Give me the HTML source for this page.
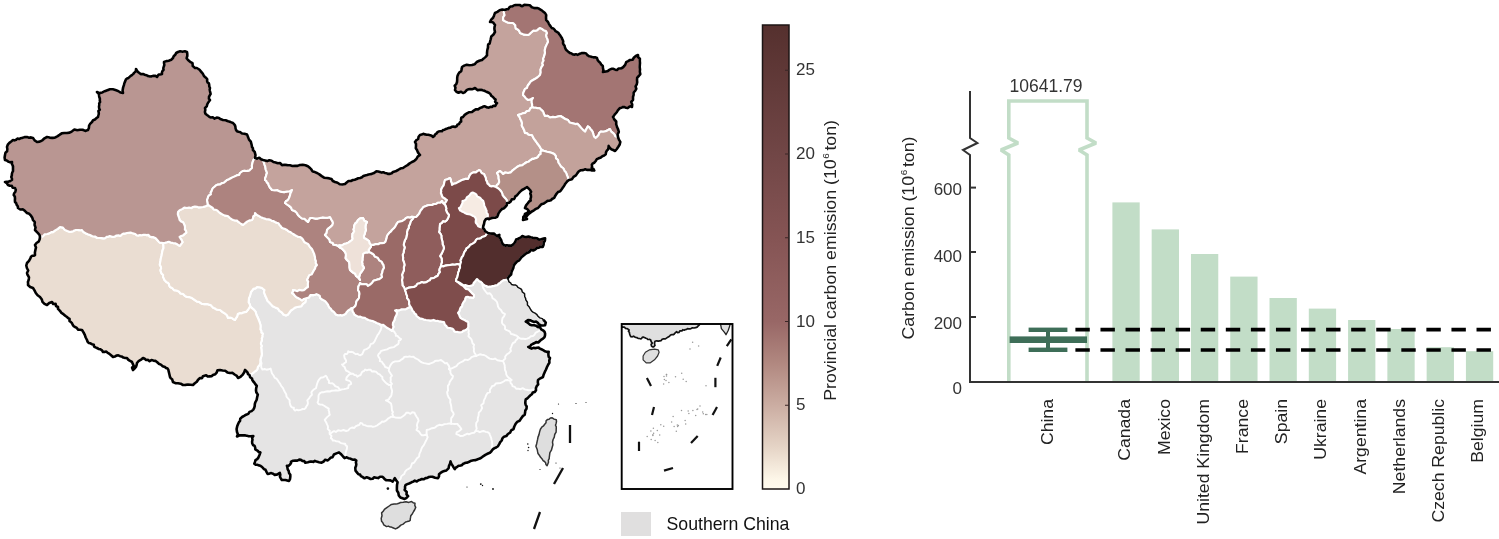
<!DOCTYPE html>
<html><head><meta charset="utf-8"><title>Carbon emission</title>
<style>html,body{margin:0;padding:0;background:#fff}svg{display:block;filter:opacity(0.9999)}text{font-family:"Liberation Sans",sans-serif}</style>
</head><body>
<svg width="1499" height="539" viewBox="0 0 1499 539">
<rect width="1499" height="539" fill="#fff"/>
<g stroke="#fff" stroke-width="2.1" stroke-linejoin="round">
<path d="M456 281 L458.1 281.9 L460 283 L461.8 284.1 L463.6 285.4 L465.9 285.1 L468 286 L470.5 285.7 L473 285 L473.5 283.2 L474.7 281.8 L475.8 280.4 L477 279 L478.1 280.1 L479.3 281.2 L480.8 281.8 L482 283 L483.2 284.4 L484.7 285.4 L486.4 286 L488 287 L489.5 286.6 L491 286.5 L492.5 286.1 L494 286 L495.6 285.3 L497.3 285.2 L498.4 283.8 L500 283 L501.6 281.3 L503.5 280.1 L506 280 L507.7 278.2 L508.4 280 L508.9 281.8 L510.6 282.8 L511.5 284.5 L513.4 285 L515.3 284.9 L516.9 285.8 L517.9 287.3 L519.4 288.2 L521 289 L521.9 290.3 L522.2 291.9 L523.5 292.8 L524.6 293.9 L524.6 295.5 L524.9 297 L525.6 298.4 L525.8 299.9 L527.4 302.2 L527.4 305.1 L529.3 307.1 L530.6 309.5 L531.7 311.1 L533.3 312.3 L535 313.2 L536.6 314.3 L538 316.3 L539.8 317.9 L542.2 318.6 L543.9 320.4 L545.8 322.5 L545.1 325.2 L543 325.5 L541 325.2 L539 324.5 L537.8 322.8 L536.1 321.6 L534.1 322 L532.3 321.3 L530.6 320.4 L528 320.1 L525.8 321.6 L527.3 322.5 L528.7 323.6 L530.1 324.7 L531.8 325.2 L534 325.2 L536.2 325.7 L538 327.1 L540.2 327.6 L541.2 329.3 L543 330.3 L544.5 331.7 L545.1 333.6 L545 335.5 L544.4 337.3 L543 338.6 L541.4 339.6 L539.8 341 L538.3 342.5 L536.1 342.1 L534.2 343.3 L532.6 344 L531.1 344.9 L530 346.4 L528.2 346.9 L529.9 347.8 L531.6 348.6 L533.4 347.9 L535.4 348.1 L537 347.8 L538.6 347.6 L539.9 348.6 L541.4 349.3 L543.2 350.1 L544.8 351.2 L546.7 351.9 L548.7 351.7 L548.4 353.3 L548.4 355 L548.7 356.8 L550 358 L549.3 360.4 L549.4 362.8 L548.1 364.8 L547 367 L546 369.5 L544.8 371.9 L543.7 374.4 L543 377 L540.4 378.3 L538 380 L537.8 382.2 L538.2 384.4 L536.7 386.1 L535.9 388.2 L536 390.2 L534.8 391.9 L532.8 392.5 L531.8 394.3 L530.2 395.5 L528.8 396.9 L527.4 398.3 L525.7 399.4 L525.4 401.2 L525.3 403.1 L525.7 404.9 L526.7 406.5 L526.5 408.7 L525.3 410.5 L525.1 412.6 L524.7 414.7 L523 415.9 L521.8 417.5 L520.7 419.1 L519.6 420.8 L517.1 421.9 L515.5 424.1 L514.3 426.5 L513.5 429 L511.2 430.3 L510.1 432.7 L507.9 434 L506.3 436.1 L504 436.7 L502.4 438.3 L501.7 440.5 L500.2 442.2 L499.2 444.2 L498 446.2 L496.1 447.5 L494.1 448.4 L492.5 449.6 L491.4 451.3 L489.9 452.7 L488 453.5 L485.8 454.6 L483.8 455.9 L481.8 457.3 L479.8 458.6 L477.7 459.2 L475.7 460.1 L473.5 460.2 L471.4 460.7 L468.7 462 L467.3 462.6 L465.8 462.8 L464.3 463.3 L462.9 464 L461.9 465.2 L460.3 465.6 L458.6 465.7 L457.2 466.8 L455.8 467.7 L454.7 469.1 L453.6 467.4 L452.6 465.6 L451.3 463.6 L450.5 461.4 L450.1 463.6 L449.1 465.6 L448.5 468.4 L446.4 470.4 L444.3 471.1 L442.2 471.8 L440.5 472.9 L439 474.2 L439 476.3 L438 478.1 L435.1 477.7 L432.4 476.7 L430.6 476.8 L428.9 477 L427.3 477.9 L425.5 478.1 L423.9 479.2 L421.9 479 L420.2 479.7 L418.5 480.2 L416.8 481.5 L414.8 480.6 L413.2 481.6 L411.5 482.3 L409.1 483.5 L406.7 484.4 L405.4 485.3 L405 486.9 L405.1 488.4 L404.6 489.9 L406.7 492 L406.5 494.4 L408.1 496.2 L406.5 497.8 L404.6 499 L402.5 498.3 L400.4 497.6 L398.8 495.4 L398.3 492.7 L396.9 490.5 L396.9 487.9 L397 485.1 L397.6 482.3 L396.1 480.2 L394.8 478.1 L393.8 479.9 L392.7 481.6 L390.4 480.4 L387.9 480.2 L386.1 480.1 L384.7 479.1 L383.6 477.8 L382.3 476.7 L380 476.8 L378.1 478.1 L376.1 477.7 L374.2 477.3 L372.7 478.7 L370.6 479 L368.7 478 L366.7 477.2 L364.5 478.3 L362.4 476.9 L360.9 476.1 L360.1 474.6 L358.4 474.2 L357.3 472.9 L355.5 470.6 L355.3 467.8 L356 466.1 L356.3 464.3 L355.9 462.5 L356.3 460.6 L354.9 459.6 L353.2 459.8 L351.7 459.3 L350.2 458.6 L348.3 458.2 L346.7 457.3 L344.6 458.1 L343.1 456.5 L341.2 454.3 L339 452.4 L336.4 453.4 L333.9 454.5 L333.2 455.9 L332.5 457.2 L331 457.6 L329.8 458.6 L327.8 460.4 L325.2 459.7 L323.7 461.5 L321.6 462.7 L319 462.2 L316.5 461.6 L314.9 460.9 L313.4 461.9 L311.9 461.6 L310.4 461.6 L307.9 462.3 L305.3 462.7 L304.3 461.1 L302.4 460.9 L300.9 459.9 L299.2 459.6 L297.3 460.6 L295.1 460.6 L293 460.8 L291 461.6 L290.9 463.3 L289.9 464.6 L288.6 465.8 L286.9 465.7 L287.4 467.5 L287.7 469.4 L288.7 471 L289 472.9 L290.3 474.7 L290.3 476.9 L290 479.1 L289 481 L287.2 480.5 L285.5 480 L283.6 480 L281.8 480 L280.8 478.4 L279.9 476.7 L280.3 474.8 L279.8 472.9 L277.5 474.4 L274.7 474.9 L273.1 473.8 L271.3 473.1 L269.5 473.6 L267.6 473.9 L266.5 471.9 L265.5 469.8 L264 469.1 L262.9 467.9 L261.7 466.7 L260.4 465.7 L258.8 465.4 L257.3 464.8 L255.7 464.7 L254.3 463.7 L255 461.9 L255.5 460.1 L257.2 459.1 L258.4 457.6 L259.5 455 L260.4 452.4 L258.8 452.1 L257.8 450.9 L255.3 449.4 L255.2 447.6 L254.6 445.9 L253 445 L252.2 443.3 L252.1 441.5 L252.5 439.7 L252.2 437.8 L253.3 436.1 L250.8 436.3 L248.2 436.1 L245.4 435.4 L242.6 435.4 L239.7 435.3 L237 436.5 L237.9 434.2 L237 432 L236.6 429.1 L237.2 426.2 L238.3 423.5 L239 422.2 L240 421 L240.3 418.6 L242.1 417 L244.1 415.9 L246.1 414.7 L248.3 413.9 L249.5 411.9 L251.6 411.1 L253.3 409.6 L254.2 407.9 L254.7 406.1 L254.8 404.2 L255.3 402.4 L256.6 400 L257.1 397.4 L257.8 394.6 L256.3 392.2 L256 390.2 L256.2 388.1 L256.8 385.9 L255.3 384.1 L254.4 382.7 L253.3 381.5 L252.3 380.1 L252 378.5 L250.1 377.2 L249.5 375 L252.2 373.7 L253.5 372.7 L254.7 371.6 L256.1 370.7 L257.3 369.6 L257.9 366.9 L259.8 364.8 L260.5 362.1 L260.4 359.4 L261.2 356.9 L261.9 354.4 L261.6 351.8 L261.4 349.2 L261.1 347.5 L261.8 346 L261 344.6 L260.9 343 L261.4 341.5 L262 340 L261.7 338.4 L262.4 336.9 L262.3 335.3 L262.8 333.7 L261.3 332.6 L261.3 330.8 L260.4 329.4 L260.5 327.8 L260.6 326.2 L260.4 324.7 L259.6 322.1 L258.6 319.5 L257.5 317 L256.3 314.5 L255.7 311.9 L254.1 309.8 L252 308.2 L250.2 306.3 L249.7 304.2 L248.6 302.3 L248.8 300.2 L249 298 L249.8 296.6 L250.2 295.1 L250.6 293.6 L251 292 L252.3 290.4 L253.4 288.7 L255.5 288.4 L257 287 L259.5 287.3 L262 288 L263.2 289 L264.5 290 L263.9 292.2 L264.8 294.3 L265.5 296.3 L266.5 298.2 L267.4 300.7 L269.3 302.5 L271 304.4 L272.7 306.3 L275.2 307.4 L277.8 308.4 L279.4 310.8 L281.8 312.4 L283.4 314.5 L285.9 315.5 L287.7 314.8 L288.9 313.4 L289.9 311.9 L291 310.4 L293.5 308.8 L294.7 307.8 L296.1 307.3 L298.7 306.8 L301.2 306.3 L302.9 303.9 L305.3 302.2 L305.7 300.2 L306.3 298.2 L309 297.4 L310.4 295.1 L311.9 295.1 L313.5 295.1 L315.1 294.8 L316.5 294.1 L318.2 294.9 L319.8 295.9 L320.1 297.9 L321.6 299.2 L323.4 300.1 L325.2 301.1 L326.5 302.7 L327.8 304.3 L328.6 306 L329.4 307.6 L330.9 308.8 L331.8 310.4 L334.1 312.2 L335.9 314.5 L337.3 315.1 L338.9 315.2 L340.5 315.1 L342 315.5 L344 314.8 L345.7 313.7 L346.8 311.9 L348.2 310.4 L349.8 309.5 L351.2 308.4 L352.5 309.7 L352.7 311.5 L353.7 312.9 L354.3 314.5 L356.2 315.6 L358.1 316.7 L360.4 316.6 L362.4 317.6 L364.6 317.7 L366.5 319 L368.5 320 L370.6 320.6 L372.7 321.1 L374.8 321.9 L376.7 323 L378.8 323.7 L380.8 325.1 L383.3 324.9 L385.1 326.3 L386.9 327.8 L389.6 329.1 L392 330.8 L392.7 328.8 L393.5 326.9 L392.8 324.9 L393 322.7 L394.4 320.3 L395.1 317.6 L396.4 315.1 L397.1 312.4 L395.1 310.4 L396.6 310 L398.2 310.4 L399.8 310.2 L401.2 309.4 L403.3 309.3 L405.5 309.3 L407.4 308.2 L409.4 307.3 L410 306 L411.1 307.4 L411.9 309 L412.6 310.8 L414 312 L414.7 313.6 L416.2 314.4 L416.6 316 L418 317 L419.7 318.4 L421.9 318.8 L423.9 319.5 L426 320 L428.5 320.3 L431 320.6 L433.6 319.9 L436 321 L438 320.9 L440 321.4 L442 321.7 L444 322 L444.5 323.5 L445 325 L446.4 325.8 L447 327.3 L448.4 328 L450 328 L451.8 328.4 L453.4 329.4 L454.2 331.2 L456 332 L457.5 331.9 L459 332.3 L460.5 332.3 L462 332 L463.3 330.7 L465.1 330.2 L466.7 329.3 L468 328 L468.3 326.5 L468.2 325 L468.3 323.5 L468 322 L466.5 321.3 L465 320.4 L463.5 319.6 L462 319 L460.4 317.9 L459.6 316.2 L459 314.5 L458 313 L459.4 311.2 L460 309 L460.7 307.4 L462.1 306.3 L462.2 304.6 L463 303 L463.9 301.5 L465.1 300.3 L465.2 298.6 L466 297 L467.8 296.8 L469.5 297.4 L471.3 297.4 L473 298 L473.9 296.6 L474 295 L472.1 293.4 L470.4 291.5 L468.6 289.5 L466 289 L464.6 287.6 L463.4 286 L461.7 285 L460 284 L458.1 282.4Z" fill="#e5e4e4"/>
<path d="M40 237 L42.8 236.4 L44.7 234.2 L47.4 234 L50 233 L51.3 232.1 L52.9 232.1 L55.2 230.3 L57.8 228.9 L60 227 L62.9 227.6 L64.8 229.9 L67.4 231 L70 232 L71.5 231.6 L73 231.3 L74.3 230.4 L75.8 230 L77.4 230 L78.9 230.1 L80.5 230.3 L82 230 L83.4 232 L85.5 233.2 L87.7 234.3 L90 235 L92.4 236.2 L95 236.5 L97.3 238 L100 238 L101.7 238.1 L103.4 238.4 L105.2 238.1 L106.5 236.9 L108.2 236.7 L109.8 236 L111.4 236.4 L113 237 L114.8 236.5 L116.5 235.5 L118.5 235.3 L120.3 236 L121.6 234.6 L123.2 233.6 L125.1 233.6 L127 233 L128.7 232.7 L130.4 232.5 L132 233.1 L133.6 233.5 L135.3 234 L136.6 235.2 L138.3 235.6 L140 235 L141.7 235.2 L143.3 234.9 L145 234.8 L146.6 235.1 L148.5 234.9 L149.7 236.5 L151.3 237.1 L153 237 L155.7 238.3 L157.7 240.5 L158.7 241.7 L159.9 242.7 L161.5 242.7 L163 243 L163.4 245.5 L163.5 248.1 L162.5 250.5 L162 253 L161.6 255.5 L160.9 258 L160.5 260.5 L160 263 L159.8 265 L160.9 266.6 L161.1 268.4 L160.5 270.2 L160.9 271.9 L161.6 273.6 L163.1 275 L163 277 L163.8 278.3 L164.3 279.8 L165.4 280.9 L166.4 282.1 L167.9 282.8 L169 284 L169.2 285.6 L170 287 L172.3 288.1 L174 290.1 L176.5 290.5 L178.8 291.4 L180.5 293.5 L183.1 294 L184.8 295.8 L187 297 L189.8 297.1 L192.3 298.3 L194.5 299.8 L196.7 301.4 L199.4 302.1 L201.6 303.7 L204.3 304.1 L207 304 L208.8 304.6 L210.6 305 L211.9 306.4 L213.2 307.8 L215 308.4 L216.4 309.5 L218.2 309.8 L220 310 L222.3 311.8 L224.7 313.3 L227 315.2 L228 318 L229.9 317.6 L231.8 318 L233.3 319.1 L235 320 L236 318.1 L237.2 316.3 L237.8 314 L240 313 L241.6 313.3 L243 312.5 L244.5 312.1 L246 312 L247.2 310.7 L248.3 309.3 L249.2 307.8 L250.2 306.3 L252 308.2 L254.1 309.8 L255.7 311.9 L256.3 314.5 L257.5 317 L258.6 319.5 L259.6 322.1 L260.4 324.7 L260.6 326.2 L260.5 327.8 L260.4 329.4 L261.3 330.8 L261.3 332.6 L262.8 333.7 L262.3 335.3 L262.4 336.9 L261.7 338.4 L262 340 L261.4 341.5 L260.9 343 L261 344.6 L261.8 346 L261.1 347.5 L261.4 349.2 L261.6 351.8 L261.9 354.4 L261.2 356.9 L260.4 359.4 L260.5 362.1 L259.8 364.8 L257.9 366.9 L257.3 369.6 L256.1 370.7 L254.7 371.6 L253.5 372.7 L252.2 373.7 L249.5 375 L248 374.1 L247.5 372.3 L246.3 371.1 L245 370 L244.1 372.6 L242.5 374.9 L240.5 376.8 L238 378 L236.8 375.8 L234.6 374.5 L232.6 372.9 L230 373 L227.4 372.4 L225.2 370.8 L222.6 370.5 L220 370 L217.5 370.3 L216.6 372.7 L215.1 374.3 L213 375 L211.5 376.3 L209.6 376.4 L207.7 376.5 L206.2 375.2 L204.5 375.7 L202.9 376.2 L202.1 378.1 L200 378 L198.1 379.7 L196.8 381.8 L194.8 383.3 L193 385 L190.5 384.7 L188 384.5 L185.5 384.9 L183 385 L180.7 383.7 L178.1 383.2 L175.4 383.2 L173 382 L172.1 379.2 L170.8 378.3 L170 377 L169.4 374.2 L168.7 371.4 L168.4 369.9 L167.6 368.6 L166.1 368.1 L165 367 L162.7 366.2 L160.9 364.6 L158.7 363.7 L157 362 L155.4 360.9 L153.4 360.6 L151.4 360.1 L149.6 361.2 L148.1 359.9 L146.1 360 L144.7 358.8 L143 358 L141.5 359.3 L139.8 360.3 L138.2 361.5 L137 363 L136.6 365 L135.9 367 L134.5 368.6 L133 370 L132.1 367.7 L133.7 365.8 L132.8 363.9 L132 362 L130.6 361.2 L129.2 360.4 L127.9 359.4 L127 358 L125.2 358 L123.4 357.6 L121.9 356.6 L120.1 356.2 L118.3 355.3 L116.4 355.6 L114.8 356.6 L113 357 L110.8 355.1 L108.6 353.3 L107.3 352.5 L106.1 351.5 L104.6 351.9 L103 352 L102 350.4 L100.4 349.3 L98.6 348.9 L97 348 L95.5 347.4 L94.1 346.6 L93.8 344.7 L91.9 344.2 L90.4 343.3 L88.7 343 L87.6 341.7 L87 340 L85.7 337.5 L84.8 334.9 L83.5 332.4 L82 330 L80 329.8 L78 329.6 L76.8 327.9 L75 327 L73.6 326.1 L72.7 324.7 L72 323.2 L70.9 322.1 L69.5 320.9 L69.6 319 L68.2 318.2 L67 317 L65.6 316 L64.3 314.9 L63 313.8 L61.5 312.9 L60.5 311.5 L59.3 310.2 L58 308.9 L58 307 L56 306 L55.6 303.8 L53.2 304 L52 302 L49.2 303 L47 305 L44.5 303.9 L42.5 301.9 L41.7 299.2 L40 297 L37.6 295.3 L35.8 293 L34.5 290.4 L33 288 L30.2 287 L28 285 L28.1 283.4 L27.9 281.9 L28.5 280.5 L28.8 278.9 L29 277.3 L28.2 275.8 L27.4 274.5 L27 273 L28.2 270.5 L26.9 268 L26.3 265.5 L27 263 L29 260.9 L30.4 258.4 L30.9 256.9 L32 255.8 L33.6 255.8 L35 255 L34.9 252.5 L35.4 250 L36 247.4 L35 245 L36.5 243 L38.6 241.7 L39.6 239.5Z" fill="#eaddd2"/>
<path d="M163 243 L164.9 242.7 L166.8 242.3 L168.8 241.7 L170.7 242.5 L173.1 243.1 L175.5 243.3 L177.6 244.5 L179.6 246 L181.1 244.1 L182.6 242.2 L181.3 239.5 L180.4 238.3 L179.6 237 L181.3 235.9 L183.3 235.3 L184.7 233.8 L186.3 232.6 L186 230.8 L184.8 229.5 L185 227.8 L184.8 226 L184 224.1 L183 222.3 L181.1 221.5 L179.6 220 L179.1 218 L178.4 216.1 L177.8 214.1 L178 212 L179.7 210.1 L182.1 209.1 L184.3 207.6 L187 208 L189.1 207.5 L191.1 208.1 L192.9 207 L194.9 206.5 L196.9 206.8 L198.9 207.4 L201 207.3 L203 207 L205.6 206.3 L208 205 L209.6 205.8 L211.2 206.8 L212.7 207.9 L213.7 209.5 L215.6 209.7 L217.3 210.4 L218.6 211.7 L220 213 L222.4 214.4 L224.9 215.6 L227.8 216 L230 218 L231.5 219.1 L233.2 220 L235.1 220.5 L237 220.6 L238.4 221.9 L239.9 223 L241.4 224 L243 225 L245 223.3 L247 221.6 L249.4 220.4 L252 220 L253 218.3 L253.2 216.4 L254.9 215.1 L255 213 L256.6 214.8 L258.7 215.9 L260.8 217.1 L263 218 L264.6 218.4 L266 219.2 L267.6 219.2 L269.2 219.4 L270.7 220 L272 221 L273.6 221.1 L275 222 L276.7 222.8 L278.5 223.3 L279.5 224.9 L280.8 226.3 L281.9 227.8 L283.6 228.6 L285.4 229.1 L287 230 L288.4 231.3 L290.2 231.9 L291.7 233 L293.2 234 L294.8 235 L296.4 235.9 L298.1 236.7 L300 237 L301.6 237.9 L302.8 239.2 L303.7 240.8 L304.7 242.3 L306.4 243.1 L308 243.9 L309.1 245.4 L310 247 L312 249 L313.2 251.6 L314.3 254.2 L315 257 L315.1 259.1 L315.9 261 L315.8 263.2 L317 265 L315.6 266.6 L315.1 268.6 L314 270.2 L313 272 L311.7 274.4 L309.2 275.4 L308.2 277.7 L307 280 L308.2 281.5 L307.9 283.4 L307.9 285.2 L308 287 L306.5 287.9 L305.2 289.1 L303.8 290.3 L302 290.5 L299.5 289.9 L297.4 291.2 L295.2 290.6 L293 290 L293 291.7 L292 293 L293.7 294.1 L294.8 295.8 L296.2 297.1 L298 298 L300.1 299.1 L302 300.5 L303.9 298.9 L306.3 298.2 L305.7 300.2 L305.3 302.2 L302.9 303.9 L301.2 306.3 L298.7 306.8 L296.1 307.3 L294.7 307.8 L293.5 308.8 L291 310.4 L289.9 311.9 L288.9 313.4 L287.7 314.8 L285.9 315.5 L283.4 314.5 L281.8 312.4 L279.4 310.8 L277.8 308.4 L275.2 307.4 L272.7 306.3 L271 304.4 L269.3 302.5 L267.4 300.7 L266.5 298.2 L265.5 296.3 L264.8 294.3 L263.9 292.2 L264.5 290 L263.2 289 L262 288 L259.5 287.3 L257 287 L255.5 288.4 L253.4 288.7 L252.3 290.4 L251 292 L250.6 293.6 L250.2 295.1 L249.8 296.6 L249 298 L248.8 300.2 L248.6 302.3 L249.7 304.2 L250.2 306.3 L249.2 307.8 L248.3 309.3 L247.2 310.7 L246 312 L244.5 312.1 L243 312.5 L241.6 313.3 L240 313 L237.8 314 L237.2 316.3 L236 318.1 L235 320 L233.3 319.1 L231.8 318 L229.9 317.6 L228 318 L227 315.2 L224.7 313.3 L222.3 311.8 L220 310 L218.2 309.8 L216.4 309.5 L215 308.4 L213.2 307.8 L211.9 306.4 L210.6 305 L208.8 304.6 L207 304 L204.3 304.1 L201.6 303.7 L199.4 302.1 L196.7 301.4 L194.5 299.8 L192.3 298.3 L189.8 297.1 L187 297 L184.8 295.8 L183.1 294 L180.5 293.5 L178.8 291.4 L176.5 290.5 L174 290.1 L172.3 288.1 L170 287 L169.2 285.6 L169 284 L167.9 282.8 L166.4 282.1 L165.4 280.9 L164.3 279.8 L163.8 278.3 L163 277 L163.1 275 L161.6 273.6 L160.9 271.9 L160.5 270.2 L161.1 268.4 L160.9 266.6 L159.8 265 L160 263 L160.5 260.5 L160.9 258 L161.6 255.5 L162 253 L162.5 250.5 L163.5 248.1 L163.4 245.5Z" fill="#eaddd2"/>
<path d="M40 237 L39.5 234.8 L38 233.2 L36.5 231.6 L35 230 L35.6 227.4 L34.6 224.9 L34.8 222.1 L33 220 L32.3 217.7 L31 215.7 L29.3 213.8 L27 213 L25.1 211.1 L23.1 209.4 L20.3 209.5 L18 208 L17.8 206.3 L16.7 204.9 L16.2 203.2 L15 202 L14.9 200.2 L15 198.4 L14.8 196.5 L13.7 195 L14.2 193.2 L15.4 191.7 L15.8 189.8 L15 188 L12.7 187.8 L11.8 185.7 L9.8 185.8 L8 185 L6.8 183.2 L5 182 L6.8 181.7 L8.7 181.6 L10.4 181 L12 180 L11.9 178.4 L11.3 177 L11.8 175.5 L11.9 173.9 L12.3 172.5 L13 171.1 L13 169.6 L13 168 L13 166.5 L12.5 165 L11.8 163.6 L12 162 L10.1 162.3 L8.3 161.6 L6.8 160.5 L5 160 L4.6 157.5 L5 155 L5.5 152.8 L7.1 151.3 L7.4 149.1 L7 147 L7.8 144.7 L9.4 142.9 L11.2 141.5 L13 140 L14.6 140.4 L16.1 139.8 L17.4 138.6 L19.1 139 L20.5 138.3 L22 137.9 L23.5 137.6 L25 137 L27 137.1 L29 137.7 L31 137.4 L33 138 L34.6 140.4 L37 142 L39.8 141.6 L42.4 140.3 L44.5 138.3 L47 137 L49.6 137.6 L52.2 137.9 L54.9 137.7 L57.3 136.3 L59.5 134.9 L61.7 133.4 L64.3 133 L67 133 L69.7 132.6 L72.1 131.3 L74.4 129.5 L77.3 130.2 L79.9 129.7 L82.6 129.7 L85.2 130.9 L88 130 L88.9 127.9 L89.1 125.6 L90.3 123.6 L92 122 L93.1 120.2 L95 119.5 L96.4 118.1 L98 117 L98.4 115.5 L98.8 114 L98.7 112.5 L98.4 111 L99.8 109.7 L99.1 108 L99 106.5 L99.3 105 L99.2 103.4 L100.1 102 L99.8 100.5 L99.9 98.9 L99.4 97.4 L99.1 95.9 L99 94.3 L98 93 L97 92 L99.6 93.1 L102.4 92.4 L104.8 91.2 L107.4 90.2 L110 89.2 L112.8 89.3 L115.4 90.1 L118 91 L120.3 92.4 L123 93 L122.6 90.5 L123 88 L123.9 85.2 L124.3 83.7 L124.7 82.3 L125.4 80.9 L125.9 79.5 L127.1 78.4 L128.6 77.9 L130.7 75.9 L132 75.1 L133.1 74.1 L134.1 72.9 L135.2 71.9 L136 70.6 L136 69 L137.1 71 L138.7 72.6 L140.6 74.1 L143 74 L144.7 74.7 L146.4 75.2 L148 76.1 L149.8 76.5 L151.7 76.4 L153.5 75.7 L155.4 75.9 L157 77 L157.8 75.7 L158.9 74.5 L160.5 74.5 L162 74 L161.9 72.4 L162.5 71 L163.6 69.8 L163.3 68.1 L163.8 66.6 L164.4 65.1 L164.1 63.6 L164 62 L166.3 61.1 L168.8 60.7 L171.2 59.8 L173 58 L173.7 56.2 L175.2 54.8 L176.2 53 L178 52 L180.2 51.3 L182.5 51.7 L184.8 51.3 L187 52 L187.3 54 L187.3 56 L186.6 58.2 L188 60 L190.1 61.8 L192.5 63.1 L192.6 64.6 L192.7 66.1 L195 68 L196.8 68 L198.4 69 L199.8 70.1 L200.9 71.5 L202.1 72.8 L203.1 74.2 L203.8 75.8 L205 77 L206.2 78 L207.2 79.3 L207.1 80.9 L207.5 82.5 L208.9 83.4 L209.2 85.1 L209.3 86.6 L210 88 L209.6 89.5 L209.9 91 L210.3 92.5 L210.6 94 L209.7 95.4 L209 96.9 L208.9 98.7 L210 100 L208.6 101.9 L207.4 103.9 L206.7 106.3 L205 108 L205.3 109.9 L204.9 111.8 L205.4 113.7 L207 115 L208.7 116.3 L210.5 117.5 L212.8 117.3 L214.6 118.7 L216.7 117.6 L219 118.1 L220.9 119.3 L223 120 L225.6 120.3 L228.1 121.3 L230.6 122.1 L233 123 L234 124.1 L235 125.3 L235.4 126.8 L235.5 128.3 L236 129.8 L236.9 131.2 L238.4 131.8 L240 132 L242 133.5 L244.5 133.7 L247 134.5 L248 137 L249 139.6 L250.8 141.7 L251.5 144.3 L252 147 L252.9 148.3 L252.9 149.9 L254.8 152.2 L255.5 155.1 L255 158 L253.4 160.1 L252.5 162.7 L251.9 165.3 L252 168 L250.7 169.1 L249.6 170.4 L247.9 170.9 L246.2 171 L244.5 170.9 L242.8 171 L241.4 172 L240 173 L239.2 174.9 L237.1 175.3 L235.4 176.1 L233.7 176.9 L232 177.6 L230.4 178.5 L228.8 179.4 L227 180 L225.5 181.4 L223.9 182.7 L221.9 183.1 L220.2 184.4 L218.1 184.6 L216.2 185.3 L214.6 186.7 L213 188 L212.1 189.5 L211.6 191.1 L210.7 192.6 L210.9 194.4 L209.3 195.2 L208.1 196.6 L207.8 198.4 L207 200 L207.6 202.5 L208 205 L205.6 206.3 L203 207 L201 207.3 L198.9 207.4 L196.9 206.8 L194.9 206.5 L192.9 207 L191.1 208.1 L189.1 207.5 L187 208 L184.3 207.6 L182.1 209.1 L179.7 210.1 L178 212 L177.8 214.1 L178.4 216.1 L179.1 218 L179.6 220 L181.1 221.5 L183 222.3 L184 224.1 L184.8 226 L185 227.8 L184.8 229.5 L186 230.8 L186.3 232.6 L184.7 233.8 L183.3 235.3 L181.3 235.9 L179.6 237 L180.4 238.3 L181.3 239.5 L182.6 242.2 L181.1 244.1 L179.6 246 L177.6 244.5 L175.5 243.3 L173.1 243.1 L170.7 242.5 L168.8 241.7 L166.8 242.3 L164.9 242.7 L163 243 L161.5 242.7 L159.9 242.7 L158.7 241.7 L157.7 240.5 L155.7 238.3 L153 237 L151.3 237.1 L149.7 236.5 L148.5 234.9 L146.6 235.1 L145 234.8 L143.3 234.9 L141.7 235.2 L140 235 L138.3 235.6 L136.6 235.2 L135.3 234 L133.6 233.5 L132 233.1 L130.4 232.5 L128.7 232.7 L127 233 L125.1 233.6 L123.2 233.6 L121.6 234.6 L120.3 236 L118.5 235.3 L116.5 235.5 L114.8 236.5 L113 237 L111.4 236.4 L109.8 236 L108.2 236.7 L106.5 236.9 L105.2 238.1 L103.4 238.4 L101.7 238.1 L100 238 L97.3 238 L95 236.5 L92.4 236.2 L90 235 L87.7 234.3 L85.5 233.2 L83.4 232 L82 230 L80.5 230.3 L78.9 230.1 L77.4 230 L75.8 230 L74.3 230.4 L73 231.3 L71.5 231.6 L70 232 L67.4 231 L64.8 229.9 L62.9 227.6 L60 227 L57.8 228.9 L55.2 230.3 L52.9 232.1 L51.3 232.1 L50 233 L47.4 234 L44.7 234.2 L42.8 236.4Z" fill="#b99692"/>
<path d="M208 205 L207.6 202.5 L207 200 L207.8 198.4 L208.1 196.6 L209.3 195.2 L210.9 194.4 L210.7 192.6 L211.6 191.1 L212.1 189.5 L213 188 L214.6 186.7 L216.2 185.3 L218.1 184.6 L220.2 184.4 L221.9 183.1 L223.9 182.7 L225.5 181.4 L227 180 L228.8 179.4 L230.4 178.5 L232 177.6 L233.7 176.9 L235.4 176.1 L237.1 175.3 L239.2 174.9 L240 173 L241.4 172 L242.8 171 L244.5 170.9 L246.2 171 L247.9 170.9 L249.6 170.4 L250.7 169.1 L252 168 L251.9 165.3 L252.5 162.7 L253.4 160.1 L255 158 L257.2 158.7 L259.3 157.7 L261 159.2 L263 160 L263.5 161.6 L264.1 163.2 L264.6 164.8 L265.2 166.4 L265.5 168.1 L265.8 169.8 L266.5 171.4 L267 173 L266.3 174.7 L265.9 176.5 L265.1 178.2 L265 180 L266.3 180.9 L266.9 182.4 L268.1 183.4 L268.6 184.9 L269.2 186.3 L270 187.7 L271.1 188.8 L272 190 L274.6 190.2 L277.2 190 L279.5 191.3 L282 192 L284.6 192.1 L287.1 191.5 L289.7 191.2 L292 190 L291.3 191.7 L290.4 193.4 L290.1 195.2 L289.4 197 L288.7 198.7 L287.7 200.3 L285.9 201.2 L285 203 L287 204.5 L289.1 205.9 L291.1 207.6 L292 210 L294.6 210.9 L296.7 212.7 L298 215.1 L300 217 L302 218.5 L304.5 218.7 L306.2 220.4 L308 222 L309 220 L310 218 L312.5 218 L315 218.6 L317.5 218.6 L320 218 L322.5 217.4 L325 217.7 L327.6 217.8 L330 217 L330.8 218.5 L331.6 220 L332.5 221.4 L333 223 L332.3 225.3 L330.5 226.9 L328.6 228.3 L327 230 L326.7 232.8 L325 235 L326.5 236.5 L328 238.1 L329.6 239.7 L330 242 L332.8 242.9 L333.3 244.6 L335 245 L336.6 245.1 L338 246 L339.8 247.5 L341.9 248.6 L343.5 250.2 L345 252 L345.9 253.9 L345.9 256 L345.6 258.2 L347 260 L349.1 261.9 L349.5 264.7 L349.5 267.4 L350 270 L351.6 271.4 L353.2 272.8 L355.2 273.8 L356 276 L358.3 277.7 L360 280 L359.3 278.6 L359 277 L359.6 275.5 L360 274 L360.9 272.5 L362.1 271.1 L363 269.5 L364 268 L363.3 266.5 L362.3 265.2 L362.4 263.6 L362 262 L362.5 260 L362.5 258 L363 256 L363 254 L364.3 253 L365.8 252.4 L367.4 252.5 L369 252 L371.1 252.8 L373 254 L374.1 255.1 L374.8 256.6 L376.3 257.1 L377.8 257.7 L378.6 259 L379.4 260.4 L380.8 261.1 L382 262 L382.5 263.5 L383.5 264.8 L383.8 266.4 L384 268 L382.8 270 L382.3 272.3 L381.5 274.6 L382 277 L380.7 278.2 L379.3 279.2 L377.6 279.4 L376 280 L373.5 280.8 L372 283 L370.1 284.6 L368 286 L366.5 284.2 L364.1 284.2 L361.8 284.3 L360 283 L359.5 284.8 L358.4 286.3 L358.3 288.2 L358 290 L359.1 291.8 L359.5 293.9 L359.1 295.9 L359 298 L358 299.5 L356.8 300.7 L356.2 302.3 L356 304 L355.5 305.7 L354.3 306.9 L353 308.1 L351.2 308.4 L349.8 309.5 L348.2 310.4 L346.8 311.9 L345.7 313.7 L344 314.8 L342 315.5 L340.5 315.1 L338.9 315.2 L337.3 315.1 L335.9 314.5 L334.1 312.2 L331.8 310.4 L330.9 308.8 L329.4 307.6 L328.6 306 L327.8 304.3 L326.5 302.7 L325.2 301.1 L323.4 300.1 L321.6 299.2 L320.1 297.9 L319.8 295.9 L318.2 294.9 L316.5 294.1 L315.1 294.8 L313.5 295.1 L311.9 295.1 L310.4 295.1 L309 297.4 L306.3 298.2 L303.9 298.9 L302 300.5 L300.1 299.1 L298 298 L296.2 297.1 L294.8 295.8 L293.7 294.1 L292 293 L293 291.7 L293 290 L295.2 290.6 L297.4 291.2 L299.5 289.9 L302 290.5 L303.8 290.3 L305.2 289.1 L306.5 287.9 L308 287 L307.9 285.2 L307.9 283.4 L308.2 281.5 L307 280 L308.2 277.7 L309.2 275.4 L311.7 274.4 L313 272 L314 270.2 L315.1 268.6 L315.6 266.6 L317 265 L315.8 263.2 L315.9 261 L315.1 259.1 L315 257 L314.3 254.2 L313.2 251.6 L312 249 L310 247 L309.1 245.4 L308 243.9 L306.4 243.1 L304.7 242.3 L303.7 240.8 L302.8 239.2 L301.6 237.9 L300 237 L298.1 236.7 L296.4 235.9 L294.8 235 L293.2 234 L291.7 233 L290.2 231.9 L288.4 231.3 L287 230 L285.4 229.1 L283.6 228.6 L281.9 227.8 L280.8 226.3 L279.5 224.9 L278.5 223.3 L276.7 222.8 L275 222 L273.6 221.1 L272 221 L270.7 220 L269.2 219.4 L267.6 219.2 L266 219.2 L264.6 218.4 L263 218 L260.8 217.1 L258.7 215.9 L256.6 214.8 L255 213 L254.9 215.1 L253.2 216.4 L253 218.3 L252 220 L249.4 220.4 L247 221.6 L245 223.3 L243 225 L241.4 224 L239.9 223 L238.4 221.9 L237 220.6 L235.1 220.5 L233.2 220 L231.5 219.1 L230 218 L227.8 216 L224.9 215.6 L222.4 214.4 L220 213 L218.6 211.7 L217.3 210.4 L215.6 209.7 L213.7 209.5 L212.7 207.9 L211.2 206.8 L209.6 205.8Z" fill="#ad837f"/>
<path d="M263 160 L265.1 160.5 L267.2 161.1 L269.3 160.2 L271.6 160.7 L273.4 162 L275.6 162.6 L277.8 163.3 L280 163 L282 165.1 L284.8 164.7 L287.3 165.1 L289.9 165.3 L292.4 166 L295 165.9 L297.6 165.9 L300 165 L302.7 164.8 L305.4 165.3 L307.9 166.3 L310 168 L311.5 169.7 L312.7 171.6 L314.9 172.1 L317 173 L319.4 174.4 L321.7 176.1 L324.1 177.7 L327 178 L329.3 178.4 L331.5 179 L332.8 181 L335 182 L337.5 182.8 L339.7 184.3 L342.4 184.5 L345 184 L346.7 182.5 L348.5 181 L350.9 181 L353 180 L354.8 179.7 L356.6 179 L358.3 178.2 L360.2 178 L362 177.3 L363.4 176.1 L365.2 175.5 L367 175 L368.6 174.5 L370.2 174.2 L371.8 173.9 L373.4 173.3 L374.9 172.4 L376.4 171.4 L378.2 171.5 L380 172 L381.6 172.6 L383.3 172.2 L384.9 172.9 L386.5 173.3 L388.2 173.9 L390 173.9 L391.7 173.2 L393 172 L395.6 171.3 L398 170 L400.4 168.6 L403 168 L405.2 166.5 L407.5 165.1 L409.7 163.4 L412 162 L414.4 160.8 L416.4 159 L417.7 156.6 L420 155 L418.1 152.7 L417 150 L415.8 148.2 L416 146 L416 143.9 L415 142 L416.3 140.2 L418.2 139 L418.6 136.8 L420 135 L421.7 134.6 L423.3 133.8 L425 134.4 L426.7 134.7 L428.4 134.8 L430.1 135.2 L431.7 135.8 L433 137 L434.4 136 L435 134.5 L436.3 133.7 L437.3 132.4 L438.6 131.5 L440.2 131.3 L441.9 131.3 L443 130 L444.6 129.8 L445.9 128.9 L447.4 128.5 L448.8 127.9 L450.5 127.8 L451.8 126.7 L453.4 126.6 L455 127 L456.6 126.3 L457.4 124.8 L459 124.1 L459.8 122.6 L461.2 121.4 L461 119.6 L461.3 117.8 L463 117 L464.7 114.9 L466.9 113.4 L469.3 112.2 L472 112 L473.8 110.6 L475.7 109.4 L478.1 109.4 L480 108 L481.5 107.6 L482.8 106.8 L484.4 106.3 L485.9 106.8 L487.3 107.5 L488.9 107.6 L490.4 106.9 L492 107 L493.4 105.8 L495.3 106 L496 104.4 L497 103 L495.1 101.8 L495.6 99.6 L494.2 98.4 L493 97 L491.3 95.8 L490.4 94 L488.8 92.8 L487 92 L485.6 91.4 L484.2 90.6 L482.6 90.3 L481.1 89.8 L479.4 89.9 L477.7 90.1 L476.3 89.1 L475 88 L473.5 88.7 L471.9 89.2 L470.2 89 L468.5 89.3 L466.9 89.9 L465.8 91.2 L464.6 92.4 L463 93 L460.8 91.7 L458.5 92.7 L456.4 91.8 L455 90 L455.5 87.8 L454.7 85.7 L456.3 84.1 L457 82 L457.2 80 L457.2 78 L457.5 76 L458.3 74.1 L459.5 72.3 L461.3 71.1 L461.7 69.1 L462 67 L464.2 65.6 L466.7 64.7 L469.3 65.2 L472 65 L474.8 64.2 L476.7 62 L479.3 60.8 L482 60 L483.7 58.6 L485.4 57.1 L487 55.4 L487 53 L487.3 50.2 L488 47.4 L488 45.9 L488.2 44.4 L489.6 43.6 L490 42 L490.7 39.2 L491.3 36.4 L493.5 34.5 L495 32 L494.6 30.3 L494.4 28.5 L494.6 26.7 L495 25 L494.1 23.7 L493.2 22.4 L491.6 22 L490 22 L491.2 19.6 L493.1 17.8 L494.1 15.4 L495 13 L497.4 11.9 L499.6 10.3 L502.3 9.5 L505 10 L503.8 12.5 L504.6 15.1 L503.2 17.3 L503 20 L505.3 21.4 L507.7 22.5 L510.3 23 L513 23 L514.2 24.1 L515.3 25.3 L515.5 26.9 L515.8 28.5 L517.2 29.2 L518.5 30.2 L519.5 31.5 L520 33 L521.9 33.7 L523.8 34.6 L525.9 34.8 L528 35 L529.6 34.1 L530.8 32.8 L532.1 31.7 L533.5 30.6 L535.3 30.7 L537.1 30.2 L538.4 28.9 L540 28 L542 28.9 L543.7 30.3 L546 30.9 L547 33 L546.1 35.3 L546.8 37.6 L547.7 39.7 L548 42 L546.7 44.6 L545.5 47.2 L544.8 50.1 L545 53 L544.7 54.5 L544.1 56 L543.8 57.5 L543 58.8 L543.6 60.4 L542.8 61.9 L542.3 63.5 L543 65 L541.5 67.2 L540.5 69.7 L540.7 72.4 L540 75 L538.4 76.5 L536.8 77.9 L534.9 79 L533 80 L530.8 81.4 L529.4 83.5 L527.8 85.5 L527 88 L525 88.9 L524.1 91 L523.3 92.9 L523 95 L524.3 96.2 L525.4 97.6 L526.6 98.9 L528 100 L530.6 99.2 L533 98 L531.7 100 L531.7 102.4 L532.2 104.7 L532 107 L530.2 108.6 L529.2 110.8 L526.7 111.2 L525 113 L523.2 113.1 L521.5 113.9 L519.7 114.4 L518 115 L519.5 116.8 L520.3 118.9 L521.4 120.9 L522 123 L521.8 125.7 L523.1 128.1 L524.3 130.4 L525 133 L527 133.1 L528.4 134.5 L530.2 135 L532 135 L533 137.1 L534.2 139.2 L535.7 141 L537 143 L538.3 144.7 L539.6 146.4 L540.7 148.3 L542 150 L540.6 151.7 L540.7 153.9 L538.9 155.1 L538 157 L536.7 157.9 L535.2 158.2 L533.8 158.9 L532.2 158.9 L531.1 159.9 L529.7 160.6 L528.6 161.8 L527 162 L524.6 163.5 L522.4 165.2 L519.5 165.6 L517 167 L514.9 168.7 L512.7 170.3 L510.8 172.4 L508 173 L505.3 172.5 L503 174 L501.6 172.4 L500 171 L498.4 171.9 L497 173 L497.9 174.6 L498.6 176.3 L498.6 178.2 L499 180 L499.2 182 L498.4 183.9 L496.8 185.1 L496 187 L494.5 186.6 L493.1 186.1 L491.5 186.5 L490 186 L488.8 184.6 L487.4 183.4 L487 181.6 L486 180 L485.9 178.4 L485.3 176.9 L484.6 175.5 L484 174 L482.4 173.6 L481.2 172.4 L480.5 170.9 L479 170 L477.5 171.2 L475.9 172.4 L473.9 172.3 L472 173 L470.5 174.1 L469.5 175.7 L468.9 177.4 L468 179 L465.9 178.8 L463.8 179.4 L461.9 180.1 L460 181 L458 182.1 L456.1 183.2 L453.9 183.7 L452 185 L451.8 183.2 L451 181.5 L450.8 179.7 L450 178 L447.6 179.2 L445 180 L444.3 182.6 L443.7 185.3 L442.1 187.5 L441 190 L441.3 191.6 L440.9 193.1 L441.7 194.5 L442 196 L443 197.3 L444.4 198.1 L445.7 199.1 L447 200 L445.7 202.2 L444 204 L442.7 202.7 L442 201 L440.4 202.8 L438.1 202.7 L436.2 203.9 L434 204 L432.1 205 L430 205 L427.9 205.2 L426 206 L423.5 206.9 L422 209 L420.8 210.3 L419.9 211.9 L419.3 213.6 L418 215 L416.4 216.9 L414 217 L411.9 216.7 L410 217.7 L408 217.2 L406 218 L404.4 219.7 L402.4 220.9 L400.2 221.4 L398 222 L396.6 224.1 L395.4 226.3 L393.9 228.3 L392 230 L390.8 231.6 L389.3 232.8 L388.1 234.3 L387 236 L386.7 237.9 L386.1 239.7 L385.5 241.7 L384 243 L382 243.1 L380 243.2 L378.1 244.2 L376 244 L373.6 244.9 L371 245 L369.5 243.3 L369 241 L366.6 239.3 L364 238 L363.9 235.9 L364.8 233.9 L365.2 231.9 L366 230 L365.5 228 L365.5 225.9 L366 223.9 L367 222 L364.3 220.7 L363 218 L360.2 218.2 L358 220 L356.9 222.1 L355.1 223.6 L354.2 225.7 L354 228 L353.5 229.6 L354.2 231.2 L353.4 232.6 L352.4 233.9 L352.4 235.4 L352.2 236.9 L352.7 238.5 L352 240 L350.1 241.3 L348.3 242.6 L346.2 243.5 L344 244 L342.7 245 L341.2 245.6 L339.5 245.3 L338 246 L336.6 245.1 L335 245 L333.3 244.6 L332.8 242.9 L330 242 L329.6 239.7 L328 238.1 L326.5 236.5 L325 235 L326.7 232.8 L327 230 L328.6 228.3 L330.5 226.9 L332.3 225.3 L333 223 L332.5 221.4 L331.6 220 L330.8 218.5 L330 217 L327.6 217.8 L325 217.7 L322.5 217.4 L320 218 L317.5 218.6 L315 218.6 L312.5 218 L310 218 L309 220 L308 222 L306.2 220.4 L304.5 218.7 L302 218.5 L300 217 L298 215.1 L296.7 212.7 L294.6 210.9 L292 210 L291.1 207.6 L289.1 205.9 L287 204.5 L285 203 L285.9 201.2 L287.7 200.3 L288.7 198.7 L289.4 197 L290.1 195.2 L290.4 193.4 L291.3 191.7 L292 190 L289.7 191.2 L287.1 191.5 L284.6 192.1 L282 192 L279.5 191.3 L277.2 190 L274.6 190.2 L272 190 L271.1 188.8 L270 187.7 L269.2 186.3 L268.6 184.9 L268.1 183.4 L266.9 182.4 L266.3 180.9 L265 180 L265.1 178.2 L265.9 176.5 L266.3 174.7 L267 173 L266.5 171.4 L265.8 169.8 L265.5 168.1 L265.2 166.4 L264.6 164.8 L264.1 163.2 L263.5 161.6Z" fill="#c4a39d"/>
<path d="M505 10 L506.6 9.3 L508.3 9.1 L509.2 7.6 L510.6 6.5 L512.3 6.4 L513.8 5.5 L515.4 5.1 L517 5 L519.7 5 L522 6.3 L524.3 4.8 L527 5 L529.8 5.3 L531.8 7.2 L534.3 8.1 L537 8 L539.2 8.8 L541.2 10.1 L543.1 11.6 L545 13 L546.2 15.2 L546 17.7 L546.2 20.2 L548 22 L548.7 23.6 L549.6 25.1 L550.6 26.4 L551.5 27.9 L553.2 28.4 L554.5 29.6 L555.4 31.2 L557 32 L558.4 32.9 L559.3 34.3 L560.3 35.6 L561.1 36.9 L562 38.3 L562.5 39.8 L563.2 41.3 L563 43 L563.5 44.5 L564.5 45.7 L564.9 47.2 L565.4 48.7 L566.3 50 L567.5 51.1 L568.6 52.2 L570 53 L571.5 53.5 L572.8 54.4 L574.4 54.6 L576 54.3 L577.6 54.9 L579.1 54.1 L580.6 53.6 L582 53 L584.1 53.1 L586.1 53.5 L587.4 55.2 L589.2 56.3 L591.2 56.7 L593.1 57.4 L595.1 57.3 L597 58 L597.5 59.9 L598.7 61.5 L600.2 62.8 L601.2 64.5 L602.8 65.9 L602.9 68 L603.4 70 L603 72 L604.8 71.6 L606.6 71.5 L608.3 70.7 L609.8 69.7 L611.5 68.8 L613.4 68.8 L615.1 69.7 L617 70 L618.7 68.5 L620.9 68.5 L622.8 67.5 L624.3 66 L625.5 64.2 L626.2 62.1 L628.1 61.1 L630 60 L632.6 59.8 L634 57.5 L635.8 56 L638 55 L638.2 57.3 L639.9 58.8 L639.8 60.9 L640 63 L639.8 65.1 L639.7 67.3 L640 69.5 L639.8 71.7 L640.3 74.1 L638.8 76 L637.2 77.7 L637 80 L637.2 82.2 L636.7 84.4 L635.5 86.5 L636.3 88.8 L635.1 90.8 L633.6 92.5 L633.6 94.8 L633 97 L633 99.8 L631.2 101.9 L632.2 104.4 L632 107 L630.5 106.2 L629 107 L627.7 108.1 L626 107.7 L624.6 107.1 L623 107 L621.6 107.7 L620 108 L618 110.1 L616.5 112.5 L614.6 114.6 L613 117 L614.3 119.5 L616.2 121.5 L616.2 124.3 L617 127 L618.1 129.4 L618.8 131.9 L617.6 134.3 L618 137 L616.4 136.8 L615.1 136 L614.5 134.6 L613.5 133.4 L611.2 131.6 L609.9 129 L607.8 130.2 L605.6 131.3 L603.2 131.7 L600.8 131.6 L599.2 133.1 L598.5 135.1 L597.1 136.7 L595.6 138.1 L594.2 136.8 L593.6 135.1 L593.1 133.4 L592.5 131.7 L591.5 130.2 L590.3 128.9 L589.3 127.4 L587.8 126.4 L586.4 128.9 L585.2 131.6 L583 129.9 L581.1 127.9 L579.3 125.8 L577.4 123.8 L575.4 124.1 L573.4 123.5 L571.5 123 L569.6 122.5 L568 120 L565.2 119 L562.9 117.5 L560.5 116 L557.9 116.6 L555.3 117.3 L552.6 116.9 L550 117.5 L547.7 115.8 L544.9 116 L543.8 113.8 L543.1 111.5 L541.3 109.9 L539.7 108.2 L537.7 108.2 L535.8 107.7 L533.8 107.8 L532 107 L532.2 104.7 L531.7 102.4 L531.7 100 L533 98 L530.6 99.2 L528 100 L526.6 98.9 L525.4 97.6 L524.3 96.2 L523 95 L523.3 92.9 L524.1 91 L525 88.9 L527 88 L527.8 85.5 L529.4 83.5 L530.8 81.4 L533 80 L534.9 79 L536.8 77.9 L538.4 76.5 L540 75 L540.7 72.4 L540.5 69.7 L541.5 67.2 L543 65 L542.3 63.5 L542.8 61.9 L543.6 60.4 L543 58.8 L543.8 57.5 L544.1 56 L544.7 54.5 L545 53 L544.8 50.1 L545.5 47.2 L546.7 44.6 L548 42 L547.7 39.7 L546.8 37.6 L546.1 35.3 L547 33 L546 30.9 L543.7 30.3 L542 28.9 L540 28 L538.4 28.9 L537.1 30.2 L535.3 30.7 L533.5 30.6 L532.1 31.7 L530.8 32.8 L529.6 34.1 L528 35 L525.9 34.8 L523.8 34.6 L521.9 33.7 L520 33 L519.5 31.5 L518.5 30.2 L517.2 29.2 L515.8 28.5 L515.5 26.9 L515.3 25.3 L514.2 24.1 L513 23 L510.3 23 L507.7 22.5 L505.3 21.4 L503 20 L503.2 17.3 L504.6 15.1 L503.8 12.5Z" fill="#a37573"/>
<path d="M532 107 L533.8 107.8 L535.8 107.7 L537.7 108.2 L539.7 108.2 L541.3 109.9 L543.1 111.5 L543.8 113.8 L544.9 116 L547.7 115.8 L550 117.5 L552.6 116.9 L555.3 117.3 L557.9 116.6 L560.5 116 L562.9 117.5 L565.2 119 L568 120 L569.6 122.5 L571.5 123 L573.4 123.5 L575.4 124.1 L577.4 123.8 L579.3 125.8 L581.1 127.9 L583 129.9 L585.2 131.6 L586.4 128.9 L587.8 126.4 L589.3 127.4 L590.3 128.9 L591.5 130.2 L592.5 131.7 L593.1 133.4 L593.6 135.1 L594.2 136.8 L595.6 138.1 L597.1 136.7 L598.5 135.1 L599.2 133.1 L600.8 131.6 L603.2 131.7 L605.6 131.3 L607.8 130.2 L609.9 129 L611.2 131.6 L613.5 133.4 L614.5 134.6 L615.1 136 L616.4 136.8 L618 137 L618.9 139.6 L620.3 141.9 L619.7 144.5 L618.3 146.8 L616.8 149 L615.1 151 L613.2 150 L611.2 149.2 L609.7 147.7 L608.6 145.8 L608.5 147.6 L608.1 149.4 L606.8 150.7 L606 152.3 L605.7 154.3 L604.1 155.6 L602.3 156.2 L600.8 157.5 L598.8 158.3 L596.8 159.1 L595.7 161 L594.3 162.7 L592.8 163.4 L591.8 164.7 L592.1 166.3 L591.7 167.9 L593.4 168.8 L594.3 170.5 L592 170.5 L589.8 169.8 L587.4 169.9 L585.2 169.2 L583.1 170.1 L580.8 170.2 L578.8 171.3 L577.4 173.1 L575.9 175.4 L573.5 176.9 L571.9 179.3 L569 180 L568.2 178.5 L567.7 176.9 L567 175.4 L566.5 173.8 L565.8 172.2 L564.5 171 L563.9 169.4 L563 168 L560.9 166.6 L559.7 164.5 L558.3 162.5 L558 160 L556 158.4 L555.7 155.9 L554.2 154 L552 153 L549.5 152.2 L547 151.7 L544.4 151.1 L542 150 L540.7 148.3 L539.6 146.4 L538.3 144.7 L537 143 L535.7 141 L534.2 139.2 L533 137.1 L532 135 L530.2 135 L528.4 134.5 L527 133.1 L525 133 L524.3 130.4 L523.1 128.1 L521.8 125.7 L522 123 L521.4 120.9 L520.3 118.9 L519.5 116.8 L518 115 L519.7 114.4 L521.5 113.9 L523.2 113.1 L525 113 L526.7 111.2 L529.2 110.8 L530.2 108.6Z" fill="#c3a29b"/>
<path d="M542 150 L544.4 151.1 L547 151.7 L549.5 152.2 L552 153 L554.2 154 L555.7 155.9 L556 158.4 L558 160 L558.3 162.5 L559.7 164.5 L560.9 166.6 L563 168 L563.9 169.4 L564.5 171 L565.8 172.2 L566.5 173.8 L567 175.4 L567.7 176.9 L568.2 178.5 L569 180 L567.4 181.1 L566.1 182.7 L564.9 184.3 L564 186 L562.7 187.7 L561.5 189.5 L560.2 191.3 L558 192 L556.5 193.8 L555.3 195.7 L554.2 197.9 L552 199 L550.8 200.3 L549.1 200.7 L547.3 200.9 L546 202 L543.9 203.4 L541.4 204.2 L539.7 206.1 L538 208 L535.8 208.9 L533.9 210.3 L531.8 211.5 L530 213 L528.6 214.1 L527.3 215.4 L525.9 217.1 L527 219 L525 219.6 L523 220 L523.3 218.4 L523.3 216.8 L524.5 215.6 L525 214 L527.2 212.8 L529 211 L527.3 209.1 L525 208 L526.1 205.3 L528 203 L529.1 201.5 L530.7 200.6 L530.5 198.8 L531 197 L530.9 195.2 L530.3 193.5 L531.1 191.7 L530 190 L528.6 188.4 L527 187 L524.5 188.6 L522 190 L519.9 191.9 L518 194 L517 195.3 L515.5 196.1 L514.9 197.6 L514 199 L511.8 199.4 L510.7 201.4 L509.1 202.8 L507 203 L507 201.2 L506.4 199.6 L505.2 198.3 L504 197 L502.7 195.4 L502.2 193.4 L501.3 191.6 L500 190 L498.1 188.3 L496 187 L496.8 185.1 L498.4 183.9 L499.2 182 L499 180 L498.6 178.2 L498.6 176.3 L497.9 174.6 L497 173 L498.4 171.9 L500 171 L501.6 172.4 L503 174 L505.3 172.5 L508 173 L510.8 172.4 L512.7 170.3 L514.9 168.7 L517 167 L519.5 165.6 L522.4 165.2 L524.6 163.5 L527 162 L528.6 161.8 L529.7 160.6 L531.1 159.9 L532.2 158.9 L533.8 158.9 L535.2 158.2 L536.7 157.9 L538 157 L538.9 155.1 L540.7 153.9 L540.6 151.7Z" fill="#b49088"/>
<path d="M444 204 L445.7 202.2 L447 200 L445.7 199.1 L444.4 198.1 L443 197.3 L442 196 L441.7 194.5 L440.9 193.1 L441.3 191.6 L441 190 L442.1 187.5 L443.7 185.3 L444.3 182.6 L445 180 L447.6 179.2 L450 178 L450.8 179.7 L451 181.5 L451.8 183.2 L452 185 L453.9 183.7 L456.1 183.2 L458 182.1 L460 181 L461.9 180.1 L463.8 179.4 L465.9 178.8 L468 179 L468.9 177.4 L469.5 175.7 L470.5 174.1 L472 173 L473.9 172.3 L475.9 172.4 L477.5 171.2 L479 170 L480.5 170.9 L481.2 172.4 L482.4 173.6 L484 174 L484.6 175.5 L485.3 176.9 L485.9 178.4 L486 180 L487 181.6 L487.4 183.4 L488.8 184.6 L490 186 L491.5 186.5 L493.1 186.1 L494.5 186.6 L496 187 L498.1 188.3 L500 190 L501.3 191.6 L502.2 193.4 L502.7 195.4 L504 197 L505.2 198.3 L506.4 199.6 L507 201.2 L507 203 L506.8 205.1 L505.5 206.8 L503.9 208.2 L502 209 L500.7 210.3 L499.6 211.7 L498.5 213.2 L498 215 L497.2 216.8 L495.5 217.6 L493.7 217.7 L492 218 L490.5 218.4 L489.1 219.2 L487.6 218.6 L486 219 L484.5 221.3 L484 224 L483.3 226 L483 228 L484.3 229.3 L485 231 L486.5 232 L488 233 L486.5 234.2 L485.5 235.8 L483.8 236.5 L482 237 L480.8 238.2 L479.2 238.8 L477.4 238.8 L476 240 L475.2 241.9 L473.5 243.1 L471.8 244.1 L470 245 L469.2 246.4 L468 247.5 L466.5 248.4 L466 250 L464.9 251.3 L464.1 252.8 L463.6 254.4 L463 256 L461.8 257.2 L461.4 258.8 L460.5 260.3 L461 262 L460.5 263.5 L460 265 L457.6 264 L455 264.7 L452.5 264.6 L450 265 L447.7 265.3 L445.5 265.6 L443.3 266.4 L441 266 L441.2 263.9 L442 262 L441.7 260.4 L441.7 258.8 L441 257.3 L440 256 L441.3 254.2 L442.3 252.2 L443.2 250.1 L444 248 L443.4 246 L442.6 244.1 L442.5 242 L442 240 L441.4 237.8 L441.4 235.6 L440.4 233.6 L439 232 L439.5 230 L439.5 228 L439.8 226 L440 224 L441.8 222.9 L443 221.1 L445.3 221.5 L447 220 L448.3 217.6 L449 215 L447.1 212.7 L446 210 L446.3 208.3 L445.8 206.7 L445.2 205.1Z" fill="#7c4a49"/>
<path d="M414 217 L416.4 216.9 L418 215 L419.3 213.6 L419.9 211.9 L420.8 210.3 L422 209 L423.5 206.9 L426 206 L427.9 205.2 L430 205 L432.1 205 L434 204 L436.2 203.9 L438.1 202.7 L440.4 202.8 L442 201 L442.7 202.7 L444 204 L445.2 205.1 L445.8 206.7 L446.3 208.3 L446 210 L447.1 212.7 L449 215 L448.3 217.6 L447 220 L445.3 221.5 L443 221.1 L441.8 222.9 L440 224 L439.8 226 L439.5 228 L439.5 230 L439 232 L440.4 233.6 L441.4 235.6 L441.4 237.8 L442 240 L442.5 242 L442.6 244.1 L443.4 246 L444 248 L443.2 250.1 L442.3 252.2 L441.3 254.2 L440 256 L441 257.3 L441.7 258.8 L441.7 260.4 L442 262 L441.2 263.9 L441 266 L440.4 267.5 L439.6 268.9 L439.4 270.5 L440 272 L438.6 273.7 L437.7 275.7 L435.8 276.7 L434 278 L432.3 278.3 L430.7 278.6 L429.9 280.2 L428.3 280.9 L426.9 281.9 L425.3 282.4 L423.6 282.7 L422 282 L419.9 283.2 L417.5 283.7 L416.2 285.8 L414 287 L411.6 287.2 L409.2 287.6 L406.9 288.5 L405 290 L404.1 287.4 L402.5 285.3 L402.3 282.6 L402 280 L402.5 277.4 L402 274.8 L403 272.4 L404 270 L403.8 267.4 L404.5 264.9 L404 262.4 L403 260 L403.1 257.4 L402.7 254.9 L403.6 252.5 L404 250 L404.7 247.4 L403.7 244.9 L404.2 242.4 L405 240 L406.1 238.2 L406.5 236.1 L407.1 234.1 L407 232 L407.5 229.9 L408.7 228.1 L408.9 225.9 L410 224 L410.4 222 L411.4 220.2 L412.8 218.7Z" fill="#8f5d5c"/>
<path d="M371 245 L373.6 244.9 L376 244 L378.1 244.2 L380 243.2 L382 243.1 L384 243 L385.5 241.7 L386.1 239.7 L386.7 237.9 L387 236 L388.1 234.3 L389.3 232.8 L390.8 231.6 L392 230 L393.9 228.3 L395.4 226.3 L396.6 224.1 L398 222 L400.2 221.4 L402.4 220.9 L404.4 219.7 L406 218 L408 217.2 L410 217.7 L411.9 216.7 L414 217 L412.8 218.7 L411.4 220.2 L410.4 222 L410 224 L408.9 225.9 L408.7 228.1 L407.5 229.9 L407 232 L407.1 234.1 L406.5 236.1 L406.1 238.2 L405 240 L404.2 242.4 L403.7 244.9 L404.7 247.4 L404 250 L403.6 252.5 L402.7 254.9 L403.1 257.4 L403 260 L404 262.4 L404.5 264.9 L403.8 267.4 L404 270 L403 272.4 L402 274.8 L402.5 277.4 L402 280 L402.3 282.6 L402.5 285.3 L404.1 287.4 L405 290 L405.8 291.9 L406.2 293.9 L407.1 295.9 L407 298 L408.5 299.6 L409.2 301.7 L409.1 303.9 L410 306 L409.4 307.3 L407.4 308.2 L405.5 309.3 L403.3 309.3 L401.2 309.4 L399.8 310.2 L398.2 310.4 L396.6 310 L395.1 310.4 L397.1 312.4 L396.4 315.1 L395.1 317.6 L394.4 320.3 L393 322.7 L392.8 324.9 L393.5 326.9 L392.7 328.8 L392 330.8 L389.6 329.1 L386.9 327.8 L385.1 326.3 L383.3 324.9 L380.8 325.1 L378.8 323.7 L376.7 323 L374.8 321.9 L372.7 321.1 L370.6 320.6 L368.5 320 L366.5 319 L364.6 317.7 L362.4 317.6 L360.4 316.6 L358.1 316.7 L356.2 315.6 L354.3 314.5 L353.7 312.9 L352.7 311.5 L352.5 309.7 L351.2 308.4 L353 308.1 L354.3 306.9 L355.5 305.7 L356 304 L356.2 302.3 L356.8 300.7 L358 299.5 L359 298 L359.1 295.9 L359.5 293.9 L359.1 291.8 L358 290 L358.3 288.2 L358.4 286.3 L359.5 284.8 L360 283 L361.8 284.3 L364.1 284.2 L366.5 284.2 L368 286 L370.1 284.6 L372 283 L373.5 280.8 L376 280 L377.6 279.4 L379.3 279.2 L380.7 278.2 L382 277 L381.5 274.6 L382.3 272.3 L382.8 270 L384 268 L383.8 266.4 L383.5 264.8 L382.5 263.5 L382 262 L380.8 261.1 L379.4 260.4 L378.6 259 L377.8 257.7 L376.3 257.1 L374.8 256.6 L374.1 255.1 L373 254 L371.1 252.8 L369 252 L368.6 250.1 L369.7 248.4 L370.9 246.9Z" fill="#9a6a67"/>
<path d="M405 290 L406.9 288.5 L409.2 287.6 L411.6 287.2 L414 287 L416.2 285.8 L417.5 283.7 L419.9 283.2 L422 282 L423.6 282.7 L425.3 282.4 L426.9 281.9 L428.3 280.9 L429.9 280.2 L430.7 278.6 L432.3 278.3 L434 278 L435.8 276.7 L437.7 275.7 L438.6 273.7 L440 272 L439.4 270.5 L439.6 268.9 L440.4 267.5 L441 266 L443.3 266.4 L445.5 265.6 L447.7 265.3 L450 265 L452.5 264.6 L455 264.7 L457.6 264 L460 265 L460 266.5 L460 268 L459.1 269.4 L459 271 L458.2 272.4 L458 274 L457.7 275.8 L457.2 277.5 L456.3 279.1 L456 281 L458.1 282.4 L460 284 L461.7 285 L463.4 286 L464.6 287.6 L466 289 L468.6 289.5 L470.4 291.5 L472.1 293.4 L474 295 L473.9 296.6 L473 298 L471.3 297.4 L469.5 297.4 L467.8 296.8 L466 297 L465.2 298.6 L465.1 300.3 L463.9 301.5 L463 303 L462.2 304.6 L462.1 306.3 L460.7 307.4 L460 309 L459.4 311.2 L458 313 L459 314.5 L459.6 316.2 L460.4 317.9 L462 319 L463.5 319.6 L465 320.4 L466.5 321.3 L468 322 L468.3 323.5 L468.2 325 L468.3 326.5 L468 328 L466.7 329.3 L465.1 330.2 L463.3 330.7 L462 332 L460.5 332.3 L459 332.3 L457.5 331.9 L456 332 L454.2 331.2 L453.4 329.4 L451.8 328.4 L450 328 L448.4 328 L447 327.3 L446.4 325.8 L445 325 L444.5 323.5 L444 322 L442 321.7 L440 321.4 L438 320.9 L436 321 L433.6 319.9 L431 320.6 L428.5 320.3 L426 320 L423.9 319.5 L421.9 318.8 L419.7 318.4 L418 317 L416.6 316 L416.2 314.4 L414.7 313.6 L414 312 L412.6 310.8 L411.9 309 L411.1 307.4 L410 306 L409.1 303.9 L409.2 301.7 L408.5 299.6 L407 298 L407.1 295.9 L406.2 293.9 L405.8 291.9Z" fill="#7f4d4c"/>
<path d="M460 265 L460.5 263.5 L461 262 L460.5 260.3 L461.4 258.8 L461.8 257.2 L463 256 L463.6 254.4 L464.1 252.8 L464.9 251.3 L466 250 L466.5 248.4 L468 247.5 L469.2 246.4 L470 245 L471.8 244.1 L473.5 243.1 L475.2 241.9 L476 240 L477.4 238.8 L479.2 238.8 L480.8 238.2 L482 237 L483.8 236.5 L485.5 235.8 L486.5 234.2 L488 233 L490 233.5 L492 233.6 L494.1 233.6 L495.5 235.2 L497.5 235.9 L499.3 234.8 L499.1 236.8 L500.3 238.5 L501.2 240.2 L501.7 242 L502.9 244.4 L505.3 245.7 L506.8 245.2 L508.3 245.6 L509.8 245.6 L511.3 245.7 L513 244.6 L514.4 243.2 L515.4 241.5 L516.1 239.6 L517.8 239.1 L519.3 238.1 L521 237.4 L522.2 236 L524.2 236.8 L526.3 237 L528.5 236.5 L530.6 237.2 L532.7 237.8 L534.9 238 L537.1 238.4 L539 239.6 L540.6 239.5 L542.1 239 L543.6 238.6 L545.1 238.4 L544.9 240.7 L543.7 242.6 L543.6 244.8 L542.7 246.9 L540.7 246.7 L538.9 247.7 L536.9 248 L535.4 249.3 L533.2 250.5 L530.7 249.9 L529.4 252.1 L527 252.9 L525.4 254 L523.9 255.2 L522.4 256.4 L521 257.7 L520 259.2 L519 260.6 L517.4 261.2 L516.1 262.5 L514.7 264 L513.7 265.8 L513.3 267.9 L512.5 269.8 L511.5 272.1 L511.1 274.6 L509.2 276.2 L507.7 278.2 L506 280 L503.5 280.1 L501.6 281.3 L500 283 L498.4 283.8 L497.3 285.2 L495.6 285.3 L494 286 L492.5 286.1 L491 286.5 L489.5 286.6 L488 287 L486.4 286 L484.7 285.4 L483.2 284.4 L482 283 L480.8 281.8 L479.3 281.2 L478.1 280.1 L477 279 L475.8 280.4 L474.7 281.8 L473.5 283.2 L473 285 L470.5 285.7 L468 286 L465.9 285.1 L463.6 285.4 L461.8 284.1 L460 283 L458.1 281.9 L456 281 L456.3 279.1 L457.2 277.5 L457.7 275.8 L458 274 L458.2 272.4 L459 271 L459.1 269.4 L460 268 L460 266.5Z" fill="#522e2d"/>
<path d="M338 246 L339.5 245.3 L341.2 245.6 L342.7 245 L344 244 L346.2 243.5 L348.3 242.6 L350.1 241.3 L352 240 L352.7 238.5 L352.2 236.9 L352.4 235.4 L352.4 233.9 L353.4 232.6 L354.2 231.2 L353.5 229.6 L354 228 L354.2 225.7 L355.1 223.6 L356.9 222.1 L358 220 L360.2 218.2 L363 218 L364.3 220.7 L367 222 L366 223.9 L365.5 225.9 L365.5 228 L366 230 L365.2 231.9 L364.8 233.9 L363.9 235.9 L364 238 L366.6 239.3 L369 241 L369.5 243.3 L371 245 L370.9 246.9 L369.7 248.4 L368.6 250.1 L369 252 L367.4 252.5 L365.8 252.4 L364.3 253 L363 254 L363 256 L362.5 258 L362.5 260 L362 262 L362.4 263.6 L362.3 265.2 L363.3 266.5 L364 268 L363 269.5 L362.1 271.1 L360.9 272.5 L360 274 L359.6 275.5 L359 277 L359.3 278.6 L360 280 L358.3 277.7 L356 276 L355.2 273.8 L353.2 272.8 L351.6 271.4 L350 270 L349.5 267.4 L349.5 264.7 L349.1 261.9 L347 260 L345.6 258.2 L345.9 256 L345.9 253.9 L345 252 L343.5 250.2 L341.9 248.6 L339.8 247.5Z" fill="#eee1d9"/>
<path d="M458.9 208.2 L460.7 207 L461.5 205 L462.5 203.1 L462.5 201 L464.5 200.5 L466.1 199.3 L466.8 197.3 L468.6 196.1 L469.7 195.3 L470.3 194.2 L471.2 193.2 L472.2 192.5 L473.7 192.8 L475.1 193.6 L476.4 194.6 L477 196.1 L478.2 197 L479.7 197.5 L480.8 198.6 L481.8 199.8 L483.2 200.8 L483.7 202.5 L484.1 204.1 L484.2 205.8 L484.9 206.9 L485.5 208.1 L486 209.4 L486.6 210.6 L486.5 212.6 L487.8 214.2 L487.9 216.2 L486.6 217.8 L486 219.4 L486 221.1 L485 222.4 L484.2 223.9 L483.7 226.2 L481.8 227.5 L480 226.9 L478.2 226.3 L477.2 224.3 L475.8 222.7 L475.7 221.1 L476.1 219.5 L475.5 218 L474.6 216.6 L473.1 216 L471.7 215.2 L470.2 214.4 L468.6 214.2 L467 213.9 L465.4 213.3 L464 212.4 L462.5 211.8 L461.4 211.1 L460.1 210.6 L459.6 209.4Z" fill="#f6ebe3"/>
</g>
<g fill="none" stroke="#fdfdfd" stroke-width="1.9" stroke-linejoin="round" stroke-linecap="round">
<path d="M260.4 361 L261.6 363.1 L261.1 365.4 L261.3 367.6 L262.4 369.6 L264.5 369 L266.6 369.7 L268.6 369.3 L270.6 368.6 L271.3 371 L272 373.5 L273.6 375.5 L274.7 377.8 L276.1 378.4 L277.2 379.5 L278.8 382 L280.2 383.9 L281.3 386.1 L282.9 387.9 L283.9 390.2 L285 392.2 L286.2 394.2 L286.5 396.6 L288 398.4 L289.6 400.1 L289.7 402.4 L290.1 404.5 L291 406.5 L292.3 407.5 L293.9 407.7 L293.8 409.4 L295.1 410.6 L296.6 409.7 L298.2 410.3 L299.7 410.1 L301.2 409.6 L302.7 409 L304.4 409.1 L305.6 408 L306.3 406.5 L307.3 405.1 L307.9 403.6 L307.8 402 L307.3 400.4 L308.9 398.7 L310.1 396.7 L311.9 394.8 L311.4 392.2 L312.6 390.6 L314.1 389.3 L316 388.2 L316.5 386.1 L317.1 383.8 L317.9 381.6 L319.1 379.6 L320.6 377.8 L323.4 377.3 L325.7 375.7 L326.9 377.2 L327.6 379.1 L329 380.8 L328.8 382.9 L330.6 383.4 L332.4 383.3 L333.9 384.4 L334.9 385.9 L336.4 386.7 L338 387.2 L339.1 388.6 L340 390"/>
<path d="M340 390 L342 389.4 L344.1 389.1 L346.2 388.6 L348.2 388 L348.7 385.2 L351.2 383.9 L350.8 382.1 L349.4 380.9 L347.8 380.3 L346.1 379.8 L346.6 377.5 L348.2 375.7 L349.4 374.3 L351.2 373.7"/>
<path d="M380.8 324.5 L381.5 327.1 L380.8 329.8 L379.8 331.6 L378.9 333.4 L377.6 335 L376.7 336.9 L375.6 339.1 L374.6 341.3 L373 343.3 L370.6 344.1 L370.1 345.7 L369.3 347.2 L367.9 348.2 L366.5 349.2 L364.2 349.9 L363.2 352 L362.3 354.1 L360.4 355.3 L358.8 354.8 L357.5 353.8 L355.8 354.2 L354.3 353.3 L353 352.2 L351.4 351.8 L349.7 352.1 L348.2 351.2 L347.8 352.7 L347 354.1 L345.2 353.9 L344.1 355.3 L344.6 358 L346.1 360.4 L346 362.1 L344.6 363 L343.5 364.1 L342 364.5 L343.2 365.9 L344.7 367.1 L345.3 368.9 L346.1 370.6 L348.8 371.9 L351.2 373.7 L353 373.8 L354.4 375 L356.3 375.2 L357.3 376.7 L358.9 375.7 L360.7 375 L361.4 373.2 L362.4 371.6 L364.1 371 L365.1 369.5 L366.8 370.3 L368.6 369.6 L370.7 369.8 L371.9 371.5 L373.8 371.3 L375.7 371.6 L377 372.7 L378.1 373.9 L379.7 374.4 L380.8 375.7 L382.4 377 L382.4 379 L383.6 380.4 L384.9 381.8 L386.7 383.7 L389 384.9"/>
<path d="M340 390 L338 390.6 L335.9 390.2 L333.9 390.6 L331.8 390.7 L329.9 391.5 L327.8 391.2 L326.2 391.5 L324.7 391.9 L323.2 392.3 L321.6 392.2 L319.7 393.4 L318.6 395.3 L318.5 397.1 L318.5 398.9 L318.2 400.7 L317.6 402.4 L318.6 404 L320.3 404.6 L322.1 404.6 L323.7 405.5 L325 406.3 L326.2 407.2 L328.8 408.6 L328.5 410.2 L329.2 411.7 L329.2 413.3 L329.8 414.7 L328.5 415.9 L327.1 417.1 L325.9 418.5 L324.7 419.8 L325.5 421.3 L326.4 422.8 L327 424.4 L327.8 425.9 L328 427.4 L327.7 428.9 L329.8 431 L329.6 432.6 L329.8 434.1"/>
<path d="M329.8 434.1 L331.5 435.9 L330.8 438.2 L332.2 439.1 L332.8 440.6 L334.4 440.5 L335.9 441.2 L337.5 441.4 L339.1 441.7 L340.4 442.9 L342 443.3 L343.6 443.7 L345.2 443.8 L345.7 445.4 L347.1 446.3 L346.9 448.9 L346.1 451.4 L345.6 452.9 L345.6 454.5 L344.8 456.1 L343.1 456.5"/>
<path d="M329.8 434.1 L331.2 433.1 L332.5 431.9 L334.2 431.1 L335.9 432 L338.1 430.3 L340.9 430.9 L343.5 430 L346.1 431 L348.3 430.3 L349.8 428.5 L352 427.5 L354.3 428 L355.6 426.4 L357.4 425.5 L359.4 424.8 L360.4 422.9 L362.1 423.4 L363.2 424.8 L364.9 425.2 L366.5 425.9 L368 426.2 L369.6 426.3 L371.2 426.2 L372.7 426.9 L375 426.4 L377.1 425.5 L378.9 424.1 L380.8 422.9 L382.1 421.5 L384 421.7 L385.5 420.9 L386.9 419.8 L388.1 418.5 L389.7 417.6 L391.3 416.6 L393.1 416.7"/>
<path d="M393.1 416.7 L392.9 415.1 L392.2 413.7 L393 412.1 L392 410.6 L391.8 408.8 L391.7 407 L391.4 405.2 L391 403.5 L388.6 401.7 L385.9 400.4 L387.5 399.8 L389.1 399.1 L389.7 397.5 L391 396.3 L391.5 394.8 L391.7 393.3 L392.1 391.8 L392 390.2 L391.1 387.6 L391 384.9 L389 384.9"/>
<path d="M392 330.8 L393.8 331.1 L394.8 332.6 L395.8 334 L395.8 335.8 L397.5 335.9 L398.5 337.3 L399.8 338.3 L401.2 339 L400.2 340.2 L398.7 340.9 L398.8 342.6 L398.2 344.1 L396 345.5 L394 347.1 L391.5 347.5 L389 348.2 L387.1 349.4 L385 349.9 L382.9 350.4 L380.8 351.2 L380.1 352.8 L378.7 353.9 L378 355.6 L378.8 357.3 L380 359 L379.8 361.1 L381.8 361.7 L382.9 363.5 L384.3 365.1 L385.2 367 L387.1 367.7 L389 368.6 L388.8 370.7 L389.9 372.4 L390.9 374.1 L392 375.7 L390.6 377.5 L390.8 379.8 L390.5 382.1 L392 383.9 L391 384.9"/>
<path d="M389 368.6 L389.9 366.3 L391.1 364.2 L392.8 362.4 L395.1 361.4 L397.4 361.4 L399.6 361 L401.4 359.6 L403.3 358.4 L404.3 356.9 L406.1 356.6 L407.8 356.9 L409.4 356.3 L411.4 356.9 L413.5 356.7 L415.1 358.1 L417 359 L418.4 359.8 L419.7 360.9 L421 362 L422.5 362.6 L424.1 363.1 L425.7 363.4 L427.3 363.8 L429 364 L430.6 363.4 L432.1 362.8 L433.8 362.2 L435 361 L436.5 360.7 L438 360.8 L439.5 360.4 L441 360 L442.3 361.1 L443.7 362.1 L445.1 363.4 L447 363 L447.8 364.4 L448.8 365.7 L449.4 367.3 L449 369"/>
<path d="M393.1 416.7 L395.6 417.6 L398.2 417.8 L400.8 417.7 L402.9 416.3 L404.9 414.8 L406.3 412.7 L408.5 412.8 L410.4 413.9 L412.2 412.3 L414.5 412.7 L415.4 414.8 L416.6 416.7 L417.9 418.6 L418.6 420.8 L417.5 422.9 L416.9 425.2 L417.5 427.7 L416.5 430 L419 431.6 L420.6 434.1 L421.8 435.2 L423.5 435.3 L425.1 434.8 L426.7 435.1"/>
<path d="M426.7 435.1 L427.7 437.2 L426.7 439.4 L425.7 441.3 L424.7 443.3 L423.7 445.4 L422.2 447.1 L421.3 449.2 L420.6 451.4 L419.4 453.9 L419.1 456.6 L417 458.3 L415.5 460.6 L414.2 462.6 L412 463.5 L411.2 465.7 L410.4 467.8 L408.5 468.9 L406.5 470 L405 471.8 L404.3 473.9 L402.7 475.1 L401.2 476.4 L400.8 478.4 L399.5 480 L397.6 482.3"/>
<path d="M426.7 435.1 L426.6 432.6 L426.7 430 L429.4 429.4 L431.9 428.2 L434.7 427.7 L436.9 425.9 L439.4 424.8 L442.1 425.2 L444.5 424.1 L447.1 423.9 L449.6 423.4 L452.2 423.9 L454.8 424 L457.3 423.9"/>
<path d="M457.3 423.9 L458.3 425.2 L459.5 426.3 L460.4 427.7 L461.4 429 L460.1 430.2 L458.7 431.4 L456.8 432.1 L456.3 434.1 L458.5 434.8 L460.4 436.1 L463.3 435.7 L465.9 434.4 L467.4 433.7 L468.9 434.4 L471.6 433.1 L474 432.8 L475.7 431"/>
<path d="M475.7 431 L477.9 431.1 L479.8 432.2 L481.8 431.3 L483.9 431 L485.6 431.9 L487.6 432.1 L489.3 433.2 L490 435.1 L490.6 436.6 L491.2 438.1 L491.5 439.7 L492 441.2 L492.1 443.2 L492.3 445.1 L491.8 447 L492 449"/>
<path d="M451.2 423.9 L451.1 421 L451.2 418.1 L452.2 417 L453 415.7 L453.7 414.3 L453.3 412.7 L451.6 410.4 L451.4 407.6 L451 405 L450.2 402.4 L450.4 399.5 L448.6 397.3 L447.6 394.8 L447.1 392.2 L448.1 390.3 L447.9 388.1 L447.9 385.9 L449.2 384.1 L449.7 381.9 L451 380 L452.4 378.2 L453 376 L451.3 374.7 L450.4 372.8 L450.4 370.6 L449 369"/>
<path d="M449 369 L451.6 368.5 L453.9 367.3 L456.4 366.2 L458 364 L460.3 362.5 L462.8 361.4 L465.1 359.6 L468 360 L470 358.8 L471.5 357.1 L473.7 356.3 L476 356"/>
<path d="M476 356 L475.5 354.2 L474.4 352.7 L473.8 350.9 L474 349 L473.5 346.8 L474.1 344.7 L472.5 343.2 L472 341 L471.3 339.1 L469.9 337.8 L468.4 336.2 L469 334 L468.4 332.5 L468.8 330.9 L468.5 329.4 L468 328"/>
<path d="M476 356 L478 355.2 L479.9 354.3 L481.9 354.7 L484 355 L486 356 L487.8 357.4 L489.7 358.6 L492 359 L493.6 359.1 L495 358.5 L497.4 360.3 L500.2 360.7 L503 361"/>
<path d="M503 361 L504 359.7 L505.3 358.6 L505.1 356.8 L506.1 355.3 L507.2 354 L508.7 353.3 L509.8 352.1 L511 351 L510.3 348.8 L511.3 346.8 L512 344.8 L513 343 L515 342.2 L515.8 340.2 L517.4 338.9 L518 337"/>
<path d="M482 283 L482.5 285.5 L483.2 287.9 L484.5 290 L486 292 L487.4 293.7 L489.6 293.2 L490.9 294.5 L492 296 L492.4 298.1 L494.3 299.2 L495.7 300.5 L497 302 L497.6 304.2 L498 306.5 L499.2 308.5 L501 310 L502.4 312.6 L505 314 L504 316.3 L502.5 318.2 L502 320.6 L502 323 L503.1 324.5 L504.6 325.5 L505.1 327.2 L505 329 L506.7 330.2 L508.6 330.8 L510.2 332.1 L511 334 L512.9 334.3 L514.7 335 L516.6 335.6 L518 337"/>
<path d="M518 337 L519.5 338.2 L521.3 338.8 L523.2 338.6 L525 339 L527.1 338.6 L529.1 337.9 L530.7 336.3 L533 336 L534.6 334.7 L535.5 332.9 L537.2 331.9 L539 331 L540.3 329.7 L541 328"/>
<path d="M503 361 L503.9 363.1 L504.7 365.3 L504.8 367.7 L505 370 L506.1 372.1 L506.2 374.4 L507.3 376.4 L509 378 L510.3 378.9 L511.4 380"/>
<path d="M511.4 380 L510.3 381.4 L510.7 383.2 L512 384.4 L512.4 386.1 L514.7 386.8 L516.1 388.8 L518.4 388.8 L520.6 389.2 L522.7 388.2 L524.7 389.3 L526.7 389.8 L528.8 390.2 L531.4 389.9 L533.9 389.2"/>
<path d="M511.4 380 L509.4 380.6 L507.3 380 L505.3 380.3 L503.7 381.5 L502 382.3 L500.2 383.1 L497.9 383.3 L495.7 383.5 L494.4 385.5 L492 386.1 L491.4 387.7 L490.3 388.9 L489.8 390.5 L490 392.2 L487.4 393.2 L486 395.6 L485.1 398.1 L483.9 400.4 L483.5 403.3 L481.2 405.2 L482.1 408 L480.8 410.6 L478.8 412.6 L478.6 415.5 L477.8 418.1 L477.8 420.8 L476.2 423 L476.1 425.8 L476.7 428.5 L475.7 431"/>
</g>
<path d="M543.9 320.4 L545.8 322.5 L545.1 325.2 L543 325.5 L541 325.2 L539 324.5 L537.8 322.8 L536.1 321.6 L534.1 322 L532.3 321.3 L530.6 320.4 L528 320.1 L525.8 321.6 L527.3 322.5 L528.7 323.6 L530.1 324.7 L531.8 325.2 L534 325.2 L536.2 325.7 L538 327.1 L540.2 327.6 L541.2 329.3 L543 330.3 L544.5 331.7 L545.1 333.6 L545 335.5 L544.4 337.3 L543 338.6 L541.4 339.6 L539.8 341 L538.3 342.5 L536.1 342.1 L534.2 343.3 L532.6 344 L531.1 344.9 L530 346.4 L528.2 346.9 L529.9 347.8 L531.6 348.6 L533.4 347.9 L535.4 348.1 L537 347.8 L538.6 347.6 L539.9 348.6 L541.4 349.3 L543.2 350.1 L544.8 351.2 L546.7 351.9 L548.7 351.7 L548.4 353.3 L548.4 355 L548.7 356.8 L550 358 L549.3 360.4 L549.4 362.8 L548.1 364.8 L547 367 L546 369.5 L544.8 371.9 L543.7 374.4 L543 377 L540.4 378.3 L538 380 L537.8 382.2 L538.2 384.4 L536.7 386.1 L535.9 388.2 L536 390.2 L534.8 391.9 L532.8 392.5 L531.8 394.3 L530.2 395.5 L528.8 396.9 L527.4 398.3 L525.7 399.4 L525.4 401.2 L525.3 403.1 L525.7 404.9 L526.7 406.5 L526.5 408.7 L525.3 410.5 L525.1 412.6 L524.7 414.7 L523 415.9 L521.8 417.5 L520.7 419.1 L519.6 420.8 L517.1 421.9 L515.5 424.1 L514.3 426.5 L513.5 429 L511.2 430.3 L510.1 432.7 L507.9 434 L506.3 436.1 L504 436.7 L502.4 438.3 L501.7 440.5 L500.2 442.2 L499.2 444.2 L498 446.2 L496.1 447.5 L494.1 448.4 L492.5 449.6 L491.4 451.3 L489.9 452.7 L488 453.5 L485.8 454.6 L483.8 455.9 L481.8 457.3 L479.8 458.6 L477.7 459.2 L475.7 460.1 L473.5 460.2 L471.4 460.7 L468.7 462 L467.3 462.6 L465.8 462.8 L464.3 463.3 L462.9 464 L461.9 465.2 L460.3 465.6 L458.6 465.7 L457.2 466.8 L455.8 467.7 L454.7 469.1 L453.6 467.4 L452.6 465.6 L451.3 463.6 L450.5 461.4 L450.1 463.6 L449.1 465.6 L448.5 468.4 L446.4 470.4 L444.3 471.1 L442.2 471.8 L440.5 472.9 L439 474.2 L439 476.3 L438 478.1 L435.1 477.7 L432.4 476.7 L430.6 476.8 L428.9 477 L427.3 477.9 L425.5 478.1 L423.9 479.2 L421.9 479 L420.2 479.7 L418.5 480.2 L416.8 481.5 L414.8 480.6 L413.2 481.6 L411.5 482.3 L409.1 483.5 L406.7 484.4 L405.4 485.3 L405 486.9 L405.1 488.4 L404.6 489.9 L406.7 492 L406.5 494.4 L408.1 496.2 L406.5 497.8 L404.6 499 L402.5 498.3 L400.4 497.6 L398.8 495.4 L398.3 492.7 L396.9 490.5 L396.9 487.9 L397 485.1 L397.6 482.3 L396.1 480.2 L394.8 478.1 L393.8 479.9 L392.7 481.6 L390.4 480.4 L387.9 480.2 L386.1 480.1 L384.7 479.1 L383.6 477.8 L382.3 476.7 L380 476.8 L378.1 478.1 L376.1 477.7 L374.2 477.3 L372.7 478.7 L370.6 479 L368.7 478 L366.7 477.2 L364.5 478.3 L362.4 476.9 L360.9 476.1 L360.1 474.6 L358.4 474.2 L357.3 472.9 L355.5 470.6 L355.3 467.8 L356 466.1 L356.3 464.3 L355.9 462.5 L356.3 460.6 L354.9 459.6 L353.2 459.8 L351.7 459.3 L350.2 458.6 L348.3 458.2 L346.7 457.3 L344.6 458.1 L343.1 456.5 L341.2 454.3 L339 452.4 L336.4 453.4 L333.9 454.5 L333.2 455.9 L332.5 457.2 L331 457.6 L329.8 458.6 L327.8 460.4 L325.2 459.7 L323.7 461.5 L321.6 462.7 L319 462.2 L316.5 461.6 L314.9 460.9 L313.4 461.9 L311.9 461.6 L310.4 461.6 L307.9 462.3 L305.3 462.7 L304.3 461.1 L302.4 460.9 L300.9 459.9 L299.2 459.6 L297.3 460.6 L295.1 460.6 L293 460.8 L291 461.6 L290.9 463.3 L289.9 464.6 L288.6 465.8 L286.9 465.7 L287.4 467.5 L287.7 469.4 L288.7 471 L289 472.9 L290.3 474.7 L290.3 476.9 L290 479.1 L289 481 L287.2 480.5 L285.5 480 L283.6 480 L281.8 480 L280.8 478.4 L279.9 476.7 L280.3 474.8 L279.8 472.9 L277.5 474.4 L274.7 474.9 L273.1 473.8 L271.3 473.1 L269.5 473.6 L267.6 473.9 L266.5 471.9 L265.5 469.8 L264 469.1 L262.9 467.9 L261.7 466.7 L260.4 465.7 L258.8 465.4 L257.3 464.8 L255.7 464.7 L254.3 463.7 L255 461.9 L255.5 460.1 L257.2 459.1 L258.4 457.6 L259.5 455 L260.4 452.4 L258.8 452.1 L257.8 450.9 L255.3 449.4 L255.2 447.6 L254.6 445.9 L253 445 L252.2 443.3 L252.1 441.5 L252.5 439.7 L252.2 437.8 L253.3 436.1 L250.8 436.3 L248.2 436.1 L245.4 435.4 L242.6 435.4 L239.7 435.3 L237 436.5 L237.9 434.2 L237 432 L236.6 429.1 L237.2 426.2 L238.3 423.5 L239 422.2 L240 421 L240.3 418.6 L242.1 417 L244.1 415.9 L246.1 414.7 L248.3 413.9 L249.5 411.9 L251.6 411.1 L253.3 409.6 L254.2 407.9 L254.7 406.1 L254.8 404.2 L255.3 402.4 L256.6 400 L257.1 397.4 L257.8 394.6 L256.3 392.2 L256 390.2 L256.2 388.1 L256.8 385.9 L255.3 384.1 L254.4 382.7 L253.3 381.5 L252.3 380.1 L252 378.5 L250.1 377.2 L249.5 375 L248 374.1 L247.5 372.3 L246.3 371.1 L245 370 L244.1 372.6 L242.5 374.9 L240.5 376.8 L238 378 L236.8 375.8 L234.6 374.5 L232.6 372.9 L230 373 L227.4 372.4 L225.2 370.8 L222.6 370.5 L220 370 L217.5 370.3 L216.6 372.7 L215.1 374.3 L213 375 L211.5 376.3 L209.6 376.4 L207.7 376.5 L206.2 375.2 L204.5 375.7 L202.9 376.2 L202.1 378.1 L200 378 L198.1 379.7 L196.8 381.8 L194.8 383.3 L193 385 L190.5 384.7 L188 384.5 L185.5 384.9 L183 385 L180.7 383.7 L178.1 383.2 L175.4 383.2 L173 382 L172.1 379.2 L170.8 378.3 L170 377 L169.4 374.2 L168.7 371.4 L168.4 369.9 L167.6 368.6 L166.1 368.1 L165 367 L162.7 366.2 L160.9 364.6 L158.7 363.7 L157 362 L155.4 360.9 L153.4 360.6 L151.4 360.1 L149.6 361.2 L148.1 359.9 L146.1 360 L144.7 358.8 L143 358 L141.5 359.3 L139.8 360.3 L138.2 361.5 L137 363 L136.6 365 L135.9 367 L134.5 368.6 L133 370 L132.1 367.7 L133.7 365.8 L132.8 363.9 L132 362 L130.6 361.2 L129.2 360.4 L127.9 359.4 L127 358 L125.2 358 L123.4 357.6 L121.9 356.6 L120.1 356.2 L118.3 355.3 L116.4 355.6 L114.8 356.6 L113 357 L110.8 355.1 L108.6 353.3 L107.3 352.5 L106.1 351.5 L104.6 351.9 L103 352 L102 350.4 L100.4 349.3 L98.6 348.9 L97 348 L95.5 347.4 L94.1 346.6 L93.8 344.7 L91.9 344.2 L90.4 343.3 L88.7 343 L87.6 341.7 L87 340 L85.7 337.5 L84.8 334.9 L83.5 332.4 L82 330 L80 329.8 L78 329.6 L76.8 327.9 L75 327 L73.6 326.1 L72.7 324.7 L72 323.2 L70.9 322.1 L69.5 320.9 L69.6 319 L68.2 318.2 L67 317 L65.6 316 L64.3 314.9 L63 313.8 L61.5 312.9 L60.5 311.5 L59.3 310.2 L58 308.9 L58 307 L56 306 L55.6 303.8 L53.2 304 L52 302 L49.2 303 L47 305 L44.5 303.9 L42.5 301.9 L41.7 299.2 L40 297 L37.6 295.3 L35.8 293 L34.5 290.4 L33 288 L30.2 287 L28 285 L28.1 283.4 L27.9 281.9 L28.5 280.5 L28.8 278.9 L29 277.3 L28.2 275.8 L27.4 274.5 L27 273 L28.2 270.5 L26.9 268 L26.3 265.5 L27 263 L29 260.9 L30.4 258.4 L30.9 256.9 L32 255.8 L33.6 255.8 L35 255 L34.9 252.5 L35.4 250 L36 247.4 L35 245 L36.5 243 L38.6 241.7 L39.6 239.5 L40 237 L39.5 234.8 L38 233.2 L36.5 231.6 L35 230 L35.6 227.4 L34.6 224.9 L34.8 222.1 L33 220 L32.3 217.7 L31 215.7 L29.3 213.8 L27 213 L25.1 211.1 L23.1 209.4 L20.3 209.5 L18 208 L17.8 206.3 L16.7 204.9 L16.2 203.2 L15 202 L14.9 200.2 L15 198.4 L14.8 196.5 L13.7 195 L14.2 193.2 L15.4 191.7 L15.8 189.8 L15 188 L12.7 187.8 L11.8 185.7 L9.8 185.8 L8 185 L6.8 183.2 L5 182 L6.8 181.7 L8.7 181.6 L10.4 181 L12 180 L11.9 178.4 L11.3 177 L11.8 175.5 L11.9 173.9 L12.3 172.5 L13 171.1 L13 169.6 L13 168 L13 166.5 L12.5 165 L11.8 163.6 L12 162 L10.1 162.3 L8.3 161.6 L6.8 160.5 L5 160 L4.6 157.5 L5 155 L5.5 152.8 L7.1 151.3 L7.4 149.1 L7 147 L7.8 144.7 L9.4 142.9 L11.2 141.5 L13 140 L14.6 140.4 L16.1 139.8 L17.4 138.6 L19.1 139 L20.5 138.3 L22 137.9 L23.5 137.6 L25 137 L27 137.1 L29 137.7 L31 137.4 L33 138 L34.6 140.4 L37 142 L39.8 141.6 L42.4 140.3 L44.5 138.3 L47 137 L49.6 137.6 L52.2 137.9 L54.9 137.7 L57.3 136.3 L59.5 134.9 L61.7 133.4 L64.3 133 L67 133 L69.7 132.6 L72.1 131.3 L74.4 129.5 L77.3 130.2 L79.9 129.7 L82.6 129.7 L85.2 130.9 L88 130 L88.9 127.9 L89.1 125.6 L90.3 123.6 L92 122 L93.1 120.2 L95 119.5 L96.4 118.1 L98 117 L98.4 115.5 L98.8 114 L98.7 112.5 L98.4 111 L99.8 109.7 L99.1 108 L99 106.5 L99.3 105 L99.2 103.4 L100.1 102 L99.8 100.5 L99.9 98.9 L99.4 97.4 L99.1 95.9 L99 94.3 L98 93 L97 92 L99.6 93.1 L102.4 92.4 L104.8 91.2 L107.4 90.2 L110 89.2 L112.8 89.3 L115.4 90.1 L118 91 L120.3 92.4 L123 93 L122.6 90.5 L123 88 L123.9 85.2 L124.3 83.7 L124.7 82.3 L125.4 80.9 L125.9 79.5 L127.1 78.4 L128.6 77.9 L130.7 75.9 L132 75.1 L133.1 74.1 L134.1 72.9 L135.2 71.9 L136 70.6 L136 69 L137.1 71 L138.7 72.6 L140.6 74.1 L143 74 L144.7 74.7 L146.4 75.2 L148 76.1 L149.8 76.5 L151.7 76.4 L153.5 75.7 L155.4 75.9 L157 77 L157.8 75.7 L158.9 74.5 L160.5 74.5 L162 74 L161.9 72.4 L162.5 71 L163.6 69.8 L163.3 68.1 L163.8 66.6 L164.4 65.1 L164.1 63.6 L164 62 L166.3 61.1 L168.8 60.7 L171.2 59.8 L173 58 L173.7 56.2 L175.2 54.8 L176.2 53 L178 52 L180.2 51.3 L182.5 51.7 L184.8 51.3 L187 52 L187.3 54 L187.3 56 L186.6 58.2 L188 60 L190.1 61.8 L192.5 63.1 L192.6 64.6 L192.7 66.1 L195 68 L196.8 68 L198.4 69 L199.8 70.1 L200.9 71.5 L202.1 72.8 L203.1 74.2 L203.8 75.8 L205 77 L206.2 78 L207.2 79.3 L207.1 80.9 L207.5 82.5 L208.9 83.4 L209.2 85.1 L209.3 86.6 L210 88 L209.6 89.5 L209.9 91 L210.3 92.5 L210.6 94 L209.7 95.4 L209 96.9 L208.9 98.7 L210 100 L208.6 101.9 L207.4 103.9 L206.7 106.3 L205 108 L205.3 109.9 L204.9 111.8 L205.4 113.7 L207 115 L208.7 116.3 L210.5 117.5 L212.8 117.3 L214.6 118.7 L216.7 117.6 L219 118.1 L220.9 119.3 L223 120 L225.6 120.3 L228.1 121.3 L230.6 122.1 L233 123 L234 124.1 L235 125.3 L235.4 126.8 L235.5 128.3 L236 129.8 L236.9 131.2 L238.4 131.8 L240 132 L242 133.5 L244.5 133.7 L247 134.5 L248 137 L249 139.6 L250.8 141.7 L251.5 144.3 L252 147 L252.9 148.3 L252.9 149.9 L254.8 152.2 L255.5 155.1 L255 158 L257.2 158.7 L259.3 157.7 L261 159.2 L263 160 L265.1 160.5 L267.2 161.1 L269.3 160.2 L271.6 160.7 L273.4 162 L275.6 162.6 L277.8 163.3 L280 163 L282 165.1 L284.8 164.7 L287.3 165.1 L289.9 165.3 L292.4 166 L295 165.9 L297.6 165.9 L300 165 L302.7 164.8 L305.4 165.3 L307.9 166.3 L310 168 L311.5 169.7 L312.7 171.6 L314.9 172.1 L317 173 L319.4 174.4 L321.7 176.1 L324.1 177.7 L327 178 L329.3 178.4 L331.5 179 L332.8 181 L335 182 L337.5 182.8 L339.7 184.3 L342.4 184.5 L345 184 L346.7 182.5 L348.5 181 L350.9 181 L353 180 L354.8 179.7 L356.6 179 L358.3 178.2 L360.2 178 L362 177.3 L363.4 176.1 L365.2 175.5 L367 175 L368.6 174.5 L370.2 174.2 L371.8 173.9 L373.4 173.3 L374.9 172.4 L376.4 171.4 L378.2 171.5 L380 172 L381.6 172.6 L383.3 172.2 L384.9 172.9 L386.5 173.3 L388.2 173.9 L390 173.9 L391.7 173.2 L393 172 L395.6 171.3 L398 170 L400.4 168.6 L403 168 L405.2 166.5 L407.5 165.1 L409.7 163.4 L412 162 L414.4 160.8 L416.4 159 L417.7 156.6 L420 155 L418.1 152.7 L417 150 L415.8 148.2 L416 146 L416 143.9 L415 142 L416.3 140.2 L418.2 139 L418.6 136.8 L420 135 L421.7 134.6 L423.3 133.8 L425 134.4 L426.7 134.7 L428.4 134.8 L430.1 135.2 L431.7 135.8 L433 137 L434.4 136 L435 134.5 L436.3 133.7 L437.3 132.4 L438.6 131.5 L440.2 131.3 L441.9 131.3 L443 130 L444.6 129.8 L445.9 128.9 L447.4 128.5 L448.8 127.9 L450.5 127.8 L451.8 126.7 L453.4 126.6 L455 127 L456.6 126.3 L457.4 124.8 L459 124.1 L459.8 122.6 L461.2 121.4 L461 119.6 L461.3 117.8 L463 117 L464.7 114.9 L466.9 113.4 L469.3 112.2 L472 112 L473.8 110.6 L475.7 109.4 L478.1 109.4 L480 108 L481.5 107.6 L482.8 106.8 L484.4 106.3 L485.9 106.8 L487.3 107.5 L488.9 107.6 L490.4 106.9 L492 107 L493.4 105.8 L495.3 106 L496 104.4 L497 103 L495.1 101.8 L495.6 99.6 L494.2 98.4 L493 97 L491.3 95.8 L490.4 94 L488.8 92.8 L487 92 L485.6 91.4 L484.2 90.6 L482.6 90.3 L481.1 89.8 L479.4 89.9 L477.7 90.1 L476.3 89.1 L475 88 L473.5 88.7 L471.9 89.2 L470.2 89 L468.5 89.3 L466.9 89.9 L465.8 91.2 L464.6 92.4 L463 93 L460.8 91.7 L458.5 92.7 L456.4 91.8 L455 90 L455.5 87.8 L454.7 85.7 L456.3 84.1 L457 82 L457.2 80 L457.2 78 L457.5 76 L458.3 74.1 L459.5 72.3 L461.3 71.1 L461.7 69.1 L462 67 L464.2 65.6 L466.7 64.7 L469.3 65.2 L472 65 L474.8 64.2 L476.7 62 L479.3 60.8 L482 60 L483.7 58.6 L485.4 57.1 L487 55.4 L487 53 L487.3 50.2 L488 47.4 L488 45.9 L488.2 44.4 L489.6 43.6 L490 42 L490.7 39.2 L491.3 36.4 L493.5 34.5 L495 32 L494.6 30.3 L494.4 28.5 L494.6 26.7 L495 25 L494.1 23.7 L493.2 22.4 L491.6 22 L490 22 L491.2 19.6 L493.1 17.8 L494.1 15.4 L495 13 L497.4 11.9 L499.6 10.3 L502.3 9.5 L505 10 L506.6 9.3 L508.3 9.1 L509.2 7.6 L510.6 6.5 L512.3 6.4 L513.8 5.5 L515.4 5.1 L517 5 L519.7 5 L522 6.3 L524.3 4.8 L527 5 L529.8 5.3 L531.8 7.2 L534.3 8.1 L537 8 L539.2 8.8 L541.2 10.1 L543.1 11.6 L545 13 L546.2 15.2 L546 17.7 L546.2 20.2 L548 22 L548.7 23.6 L549.6 25.1 L550.6 26.4 L551.5 27.9 L553.2 28.4 L554.5 29.6 L555.4 31.2 L557 32 L558.4 32.9 L559.3 34.3 L560.3 35.6 L561.1 36.9 L562 38.3 L562.5 39.8 L563.2 41.3 L563 43 L563.5 44.5 L564.5 45.7 L564.9 47.2 L565.4 48.7 L566.3 50 L567.5 51.1 L568.6 52.2 L570 53 L571.5 53.5 L572.8 54.4 L574.4 54.6 L576 54.3 L577.6 54.9 L579.1 54.1 L580.6 53.6 L582 53 L584.1 53.1 L586.1 53.5 L587.4 55.2 L589.2 56.3 L591.2 56.7 L593.1 57.4 L595.1 57.3 L597 58 L597.5 59.9 L598.7 61.5 L600.2 62.8 L601.2 64.5 L602.8 65.9 L602.9 68 L603.4 70 L603 72 L604.8 71.6 L606.6 71.5 L608.3 70.7 L609.8 69.7 L611.5 68.8 L613.4 68.8 L615.1 69.7 L617 70 L618.7 68.5 L620.9 68.5 L622.8 67.5 L624.3 66 L625.5 64.2 L626.2 62.1 L628.1 61.1 L630 60 L632.6 59.8 L634 57.5 L635.8 56 L638 55 L638.2 57.3 L639.9 58.8 L639.8 60.9 L640 63 L639.8 65.1 L639.7 67.3 L640 69.5 L639.8 71.7 L640.3 74.1 L638.8 76 L637.2 77.7 L637 80 L637.2 82.2 L636.7 84.4 L635.5 86.5 L636.3 88.8 L635.1 90.8 L633.6 92.5 L633.6 94.8 L633 97 L633 99.8 L631.2 101.9 L632.2 104.4 L632 107 L630.5 106.2 L629 107 L627.7 108.1 L626 107.7 L624.6 107.1 L623 107 L621.6 107.7 L620 108 L618 110.1 L616.5 112.5 L614.6 114.6 L613 117 L614.3 119.5 L616.2 121.5 L616.2 124.3 L617 127 L618.1 129.4 L618.8 131.9 L617.6 134.3 L618 137 L618.9 139.6 L620.3 141.9 L619.7 144.5 L618.3 146.8 L616.8 149 L615.1 151 L613.2 150 L611.2 149.2 L609.7 147.7 L608.6 145.8 L608.5 147.6 L608.1 149.4 L606.8 150.7 L606 152.3 L605.7 154.3 L604.1 155.6 L602.3 156.2 L600.8 157.5 L598.8 158.3 L596.8 159.1 L595.7 161 L594.3 162.7 L592.8 163.4 L591.8 164.7 L592.1 166.3 L591.7 167.9 L593.4 168.8 L594.3 170.5 L592 170.5 L589.8 169.8 L587.4 169.9 L585.2 169.2 L583.1 170.1 L580.8 170.2 L578.8 171.3 L577.4 173.1 L575.9 175.4 L573.5 176.9 L571.9 179.3 L569 180 L567.4 181.1 L566.1 182.7 L564.9 184.3 L564 186 L562.7 187.7 L561.5 189.5 L560.2 191.3 L558 192 L556.5 193.8 L555.3 195.7 L554.2 197.9 L552 199 L550.8 200.3 L549.1 200.7 L547.3 200.9 L546 202 L543.9 203.4 L541.4 204.2 L539.7 206.1 L538 208 L535.8 208.9 L533.9 210.3 L531.8 211.5 L530 213 L528.6 214.1 L527.3 215.4 L525.9 217.1 L527 219 L525 219.6 L523 220 L523.3 218.4 L523.3 216.8 L524.5 215.6 L525 214 L527.2 212.8 L529 211 L527.3 209.1 L525 208 L526.1 205.3 L528 203 L529.1 201.5 L530.7 200.6 L530.5 198.8 L531 197 L530.9 195.2 L530.3 193.5 L531.1 191.7 L530 190 L528.6 188.4 L527 187 L524.5 188.6 L522 190 L519.9 191.9 L518 194 L517 195.3 L515.5 196.1 L514.9 197.6 L514 199 L511.8 199.4 L510.7 201.4 L509.1 202.8 L507 203 L506.8 205.1 L505.5 206.8 L503.9 208.2 L502 209 L500.7 210.3 L499.6 211.7 L498.5 213.2 L498 215 L497.2 216.8 L495.5 217.6 L493.7 217.7 L492 218 L490.5 218.4 L489.1 219.2 L487.6 218.6 L486 219 L484.5 221.3 L484 224 L483.3 226 L483 228 L484.3 229.3 L485 231 L486.5 232 L488 233 L490 233.5 L492 233.6 L494.1 233.6 L495.5 235.2 L497.5 235.9 L499.3 234.8 L499.1 236.8 L500.3 238.5 L501.2 240.2 L501.7 242 L502.9 244.4 L505.3 245.7 L506.8 245.2 L508.3 245.6 L509.8 245.6 L511.3 245.7 L513 244.6 L514.4 243.2 L515.4 241.5 L516.1 239.6 L517.8 239.1 L519.3 238.1 L521 237.4 L522.2 236 L524.2 236.8 L526.3 237 L528.5 236.5 L530.6 237.2 L532.7 237.8 L534.9 238 L537.1 238.4 L539 239.6 L540.6 239.5 L542.1 239 L543.6 238.6 L545.1 238.4 L544.9 240.7 L543.7 242.6 L543.6 244.8 L542.7 246.9 L540.7 246.7 L538.9 247.7 L536.9 248 L535.4 249.3 L533.2 250.5 L530.7 249.9 L529.4 252.1 L527 252.9 L525.4 254 L523.9 255.2 L522.4 256.4 L521 257.7 L520 259.2 L519 260.6 L517.4 261.2 L516.1 262.5 L514.7 264 L513.7 265.8 L513.3 267.9 L512.5 269.8 L511.5 272.1 L511.1 274.6 L509.2 276.2 L507.7 278.2" fill="none" stroke="#000" stroke-width="2.6" stroke-linejoin="round" stroke-linecap="round"/>
<path d="M507.7 278.2 L508.4 280 L508.9 281.8 L510.6 282.8 L511.5 284.5 L513.4 285 L515.3 284.9 L516.9 285.8 L517.9 287.3 L519.4 288.2 L521 289 L521.9 290.3 L522.2 291.9 L523.5 292.8 L524.6 293.9 L524.6 295.5 L524.9 297 L525.6 298.4 L525.8 299.9 L527.4 302.2 L527.4 305.1 L529.3 307.1 L530.6 309.5 L531.7 311.1 L533.3 312.3 L535 313.2 L536.6 314.3 L538 316.3 L539.8 317.9 L542.2 318.6 L543.9 320.4" fill="none" stroke="#111" stroke-width="1.5" stroke-linejoin="round"/>
<path d="M381.6 512.9 L383.2 511.3 L384.4 509.4 L386.8 507.7 L389.2 506 L391.4 504.4 L394.1 503.9 L395.8 504 L397.4 503.8 L398.9 503.3 L400.4 502.5 L403.2 502.3 L406 501.8 L408.8 502.4 L411.5 501.5 L413.1 502.7 L415 503.2 L414.8 505.4 L415.7 507.4 L414.8 509.5 L413.6 511.5 L412.4 513.7 L410.8 515.7 L410.6 517.2 L410.3 518.7 L410.2 520.4 L408.7 521.3 L407.1 521.6 L405.6 522 L404.4 523 L403.2 524.1 L400.8 525.1 L399 526.9 L397.3 528 L395.5 528.9 L392.8 527.7 L391.4 527.1 L389.9 526.9 L388.3 526.1 L386.5 526.6 L385.1 525.7 L383.7 524.8 L382.9 522.9 L381.6 521.3 L381.2 518.5 L382 515.7Z" fill="#dedede" stroke="#333" stroke-width="1.5" stroke-linejoin="round"/>
<path d="M552.2 417.8 L554.1 419.1 L556.3 419.8 L556.5 421.6 L556.1 423.4 L555.5 425.2 L556.3 426.9 L556.2 429.5 L556.1 432.2 L554.7 434.5 L554.3 437.1 L553.1 439.5 L552.5 442.1 L552.9 444.7 L552.2 447.3 L551.8 448.8 L551.4 450.2 L549.9 452.7 L549.5 455.6 L549.3 457.1 L549.2 458.6 L548.3 460.3 L548.5 462.3 L547.8 464 L547.1 465.7 L545.9 464.4 L545.6 462.7 L544.5 461.5 L543.1 460.6 L541.9 458.7 L540.4 457.1 L539.3 455.2 L538 453.5 L537.6 451.7 L537.3 449.8 L536.6 448 L535.9 446.3 L536.6 444 L537.1 441.7 L537.6 439.4 L538 437.1 L539 434.6 L539.6 431.9 L540.4 429.2 L542 426.9 L543.6 425.8 L544.7 424.3 L546 422.8 L546.1 420.8 L547.4 419.6 L549.1 419.2 L550.4 418Z" fill="#dedede" stroke="#333" stroke-width="1.5" stroke-linejoin="round"/>
<g fill="#111">
<circle cx="387.9" cy="488.6" r="1.3"/>
<circle cx="480.8" cy="484.1" r="0.9"/>
<circle cx="482.5" cy="485.5" r="0.7"/>
<circle cx="493" cy="489" r="0.9"/>
<circle cx="527.8" cy="444" r="0.8"/>
<circle cx="528.6" cy="447.5" r="0.8"/>
<circle cx="528" cy="450.5" r="0.7"/>
<circle cx="552.5" cy="413.5" r="0.7"/>
<circle cx="558.5" cy="404" r="0.6"/>
<circle cx="576" cy="403.5" r="0.6"/>
<circle cx="586" cy="402.5" r="0.5"/>
<circle cx="556" cy="463" r="0.6"/>
<circle cx="540" cy="469.5" r="0.6"/>
<circle cx="560" cy="468" r="0.5"/>
<circle cx="467" cy="487" r="0.6"/>
</g>
<g stroke="#111" stroke-width="2.3" stroke-linecap="butt">
<line x1="570" y1="425" x2="570" y2="443"/>
<line x1="563" y1="468" x2="554" y2="484"/>
<line x1="540" y1="512" x2="534" y2="529"/>
</g>
<g>
<clipPath id="ic"><rect x="621" y="323" width="112" height="166"/></clipPath>
<g clip-path="url(#ic)" stroke-linejoin="round">
<path d="M615 318 L615.9 319 L616.9 319.9 L616.6 321.4 L617.7 322.4 L618 323.7 L618.8 324.8 L620.2 325.2 L621 326.4 L622.6 327.1 L624.3 327 L625.5 328.3 L627.2 328.6 L628.2 329.3 L629.1 330 L628.4 331.3 L629.4 332.4 L629.6 334 L630.2 335.5 L630.9 336.7 L632.3 336.8 L633.6 336.2 L634.8 337 L635.9 337.5 L637.1 337.7 L638.1 338.4 L639.3 338.5 L640.4 338.8 L641.5 338.6 L642.1 337.6 L643.1 337 L644 337.4 L645 337.7 L645.9 338.2 L646.9 338.5 L647.6 339.3 L648.7 339.5 L649.8 339.3 L650.7 340 L651.2 341.7 L652.3 343.1 L651.1 344.4 L651.5 346.1 L652.5 346.8 L653.8 346.9 L654.4 346 L655 345.2 L654.7 344.2 L654.5 343.1 L655 341.3 L656.8 340.8 L658.2 341.1 L659.7 340.8 L661.2 340.6 L662.1 339.3 L663.7 338.9 L665.4 338.9 L666.8 337.9 L668.2 337 L669.5 336.2 L670.5 335 L672 334.6 L673.5 334.7 L674.3 334 L675 333.1 L675.8 332.4 L676.6 331.7 L677.6 332.6 L678.9 332.4 L680 330.8 L681.9 330.9 L682.8 329.7 L684.2 330.2 L685.3 329.6 L686.5 329.4 L687.5 328.6 L688.7 328.9 L689.9 328.8 L691 328.6 L692.5 327.8 L694.1 328 L695.6 327.7 L697.1 327.1 L698.2 325.9 L699.4 324.8 L699.9 323.1 L700.4 321.3 L701.1 320.3 L700.4 319.3 L701.6 319.2 L702 318Z" fill="#dfdfdf" stroke="#111" stroke-width="1.7"/>
<path d="M720 318 L720.7 324.8 L721.4 328.6 L724.5 332.4 L726 334.7 L728.3 330.2 L729.8 325.6 L731 318Z" fill="#dfdfdf" stroke="#222" stroke-width="1.3"/>
<path d="M643.1 356 L645.4 352.2 L649.2 349.9 L654.5 349.2 L658.3 349.9 L659.1 352.2 L657.6 356 L654.5 359.8 L650 362.9 L646.2 362.9 L643.1 359.8Z" fill="#dfdfdf" stroke="#333" stroke-width="1.2"/>
</g>
<g stroke="#111" stroke-width="2.2" fill="none">
<line x1="731.3" y1="339.3" x2="726.8" y2="346.1"/>
<line x1="720.7" y1="357.5" x2="717.2" y2="365.9"/>
<line x1="715.4" y1="377.8" x2="715.4" y2="387.2"/>
<line x1="717" y1="407" x2="712.6" y2="415"/>
<line x1="697.7" y1="436" x2="691" y2="443"/>
<line x1="673" y1="468" x2="664" y2="470.6"/>
<line x1="639" y1="441.7" x2="639" y2="451"/>
<line x1="654" y1="407" x2="652" y2="415"/>
<line x1="646.9" y1="378.1" x2="651" y2="386.1"/>
</g>
<g fill="#9a9a9a">
<circle cx="674.1" cy="426.5" r="0.75"/>
<circle cx="697.7" cy="409.1" r="0.75"/>
<circle cx="677.3" cy="425.1" r="0.75"/>
<circle cx="659.7" cy="434.9" r="0.75"/>
<circle cx="685.7" cy="424.0" r="0.75"/>
<circle cx="652.9" cy="434.8" r="0.75"/>
<circle cx="657.8" cy="442.6" r="0.75"/>
<circle cx="681.5" cy="410.5" r="0.75"/>
<circle cx="705.7" cy="414.6" r="0.75"/>
<circle cx="685.1" cy="420.5" r="0.75"/>
<circle cx="653.4" cy="428.3" r="0.75"/>
<circle cx="673.1" cy="416.4" r="0.75"/>
<circle cx="657.3" cy="430.6" r="0.75"/>
<circle cx="651.2" cy="439.4" r="0.75"/>
<circle cx="676.3" cy="431.2" r="0.75"/>
<circle cx="678.4" cy="425.5" r="0.75"/>
<circle cx="677.6" cy="426.5" r="0.75"/>
<circle cx="671.6" cy="422.1" r="0.75"/>
<circle cx="706.8" cy="414.6" r="0.75"/>
<circle cx="695.7" cy="415.6" r="0.75"/>
<circle cx="663.7" cy="426.2" r="0.75"/>
<circle cx="660.8" cy="424.7" r="0.75"/>
<circle cx="688.9" cy="413.4" r="0.75"/>
<circle cx="692.9" cy="410.5" r="0.75"/>
<circle cx="703.3" cy="413.7" r="0.75"/>
<circle cx="647.2" cy="436.6" r="0.75"/>
<circle cx="697.0" cy="409.6" r="0.75"/>
<circle cx="700.0" cy="406.1" r="0.75"/>
<circle cx="655.1" cy="440.5" r="0.75"/>
<circle cx="688.2" cy="411.0" r="0.75"/>
<circle cx="652.9" cy="435.5" r="0.75"/>
<circle cx="702.7" cy="412.1" r="0.75"/>
<circle cx="653.6" cy="433.2" r="0.75"/>
<circle cx="650.9" cy="430.9" r="0.75"/>
<circle cx="681.7" cy="373.3" r="0.75"/>
<circle cx="675.5" cy="376.8" r="0.75"/>
<circle cx="666.0" cy="380.5" r="0.75"/>
<circle cx="664.4" cy="379.4" r="0.75"/>
<circle cx="664.0" cy="376.5" r="0.75"/>
<circle cx="666.5" cy="374.5" r="0.75"/>
<circle cx="686.2" cy="381.4" r="0.75"/>
<circle cx="668.9" cy="382.5" r="0.75"/>
<circle cx="666.5" cy="376.1" r="0.75"/>
<circle cx="683.2" cy="379.3" r="0.75"/>
<circle cx="663.6" cy="383.9" r="0.75"/>
<circle cx="666.5" cy="374.4" r="0.75"/>
<circle cx="692.6" cy="342.3" r="0.75"/>
<circle cx="698.6" cy="346.1" r="0.75"/>
<circle cx="706.0" cy="385.7" r="0.75"/>
<circle cx="690.0" cy="349.0" r="0.75"/>
</g>
<rect x="621.7" y="324" width="110.8" height="165" fill="none" stroke="#000" stroke-width="1.9"/>
</g>
<rect x="621" y="512" width="30" height="24" fill="#e0dfdf"/>
<text x="666.5" y="530" font-size="17.7" fill="#111">Southern China</text>
<defs><linearGradient id="cb" x1="0" y1="1" x2="0" y2="0">
<stop offset="0.0000" stop-color="rgb(255,250,238)"/>
<stop offset="0.0217" stop-color="rgb(253,246,232)"/>
<stop offset="0.0903" stop-color="rgb(229,212,198)"/>
<stop offset="0.1805" stop-color="rgb(203,173,162)"/>
<stop offset="0.2708" stop-color="rgb(177,136,128)"/>
<stop offset="0.3610" stop-color="rgb(152,103,102)"/>
<stop offset="0.5415" stop-color="rgb(133,84,84)"/>
<stop offset="0.7220" stop-color="rgb(113,70,70)"/>
<stop offset="1.0000" stop-color="rgb(85,48,46)"/>
</linearGradient></defs>
<rect x="762.5" y="25" width="26.5" height="464" fill="url(#cb)" stroke="#1c1515" stroke-width="1.5"/>
<g stroke="#3a2626" stroke-width="1">
<line x1="785" y1="405.25" x2="789" y2="405.25"/>
<line x1="785" y1="321.5" x2="789" y2="321.5"/>
<line x1="785" y1="237.75" x2="789" y2="237.75"/>
<line x1="785" y1="154" x2="789" y2="154"/>
<line x1="785" y1="70.25" x2="789" y2="70.25"/>
</g>
<g font-size="17" fill="#333">
<text x="796" y="494.2">0</text>
<text x="796" y="410.45">5</text>
<text x="796" y="326.7">10</text>
<text x="796" y="242.95">15</text>
<text x="796" y="159.2">20</text>
<text x="796" y="75.45">25</text>
</g>
<text transform="translate(835.6 400.8) rotate(-90) scale(1.05 1)" font-size="16.9" fill="#222">Provincial carbon emission (10<tspan font-size="9.5" dy="-7" dx="0.6">6</tspan><tspan dy="7" dx="-2.2"> ton)</tspan></text>
<rect x="1112.4" y="202.4" width="27.3" height="179.6" fill="#c2ddc7"/>
<rect x="1151.68" y="229.4" width="27.3" height="152.6" fill="#c2ddc7"/>
<rect x="1190.96" y="254" width="27.3" height="128" fill="#c2ddc7"/>
<rect x="1230.24" y="276.6" width="27.3" height="105.4" fill="#c2ddc7"/>
<rect x="1269.52" y="298" width="27.3" height="84" fill="#c2ddc7"/>
<rect x="1308.8" y="308.6" width="27.3" height="73.4" fill="#c2ddc7"/>
<rect x="1348.08" y="320" width="27.3" height="62" fill="#c2ddc7"/>
<rect x="1387.36" y="329" width="27.3" height="53" fill="#c2ddc7"/>
<rect x="1426.64" y="347.2" width="27.3" height="34.8" fill="#c2ddc7"/>
<rect x="1465.92" y="351.2" width="27.3" height="30.8" fill="#c2ddc7"/>
<path d="M1008.8 382 L1008.8 155 L1001 150 L1018 143 L1008.8 138 L1008.8 101 L1087 101 L1087 138 L1096 143 L1079 150 L1087 155 L1087 382" fill="none" stroke="#c2ddc7" stroke-width="3.6" stroke-linejoin="miter" stroke-miterlimit="1.8"/>
<rect x="1009.6" y="336.4" width="77.4" height="6.6" fill="#3e6e58"/>
<rect x="1028.6" y="327.6" width="38.8" height="4.4" fill="#3e6e58"/>
<rect x="1028.6" y="347.6" width="38.8" height="4.4" fill="#3e6e58"/>
<rect x="1046" y="329" width="4" height="21" fill="#3e6e58"/>
<g stroke="#000" stroke-width="3.6" stroke-dasharray="14.4 10.67">
<line x1="1075.4" y1="329.6" x2="1492" y2="329.6"/>
<line x1="1075.4" y1="350" x2="1492" y2="350"/>
</g>
<g stroke="#333" stroke-width="2" fill="none">
<path d="M970 91 L970 138 L977.4 143 L963 150 L970 155 L970 382 L1499 382"/>
<line x1="970" y1="187.6" x2="976" y2="187.6"/>
<line x1="970" y1="252" x2="976" y2="252"/>
<line x1="970" y1="317" x2="976" y2="317"/>
</g>
<g font-size="17" fill="#333" text-anchor="end">
<text x="962" y="194.8">600</text>
<text x="962" y="261.6">400</text>
<text x="962" y="328.5">200</text>
<text x="962" y="394">0</text>
</g>
<text x="1046" y="92.3" font-size="17.5" fill="#333" text-anchor="middle">10641.79</text>
<text transform="translate(914 339.5) rotate(-90) scale(1.05 1)" font-size="16.9" fill="#222">Carbon emission (10<tspan font-size="9.5" dy="-7" dx="0.6">6</tspan><tspan dy="7" dx="-2.2"> ton)</tspan></text>
<g font-size="16.9" fill="#222" text-anchor="end">
<text transform="translate(1053 399) rotate(-90) scale(1.045 1)">China</text>
<text transform="translate(1130.3 399) rotate(-90) scale(1.045 1)">Canada</text>
<text transform="translate(1169.5 399) rotate(-90) scale(1.045 1)">Mexico</text>
<text transform="translate(1208.7 399) rotate(-90) scale(1.045 1)">United Kingdom</text>
<text transform="translate(1247.9 399) rotate(-90) scale(1.045 1)">France</text>
<text transform="translate(1287.1 399) rotate(-90) scale(1.045 1)">Spain</text>
<text transform="translate(1326.3 399) rotate(-90) scale(1.045 1)">Ukraine</text>
<text transform="translate(1365.5 399) rotate(-90) scale(1.045 1)">Argentina</text>
<text transform="translate(1404.7 399) rotate(-90) scale(1.045 1)">Netherlands</text>
<text transform="translate(1443.9 399) rotate(-90) scale(1.045 1)">Czech Republic</text>
<text transform="translate(1483.1 399) rotate(-90) scale(1.045 1)">Belgium</text>
</g>
</svg>
</body></html>
